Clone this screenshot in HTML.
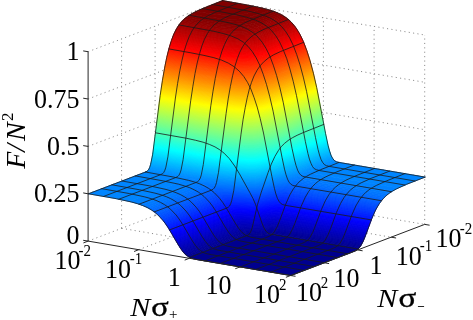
<!DOCTYPE html>
<html><head><meta charset="utf-8"><style>
html,body{margin:0;padding:0;background:#fff;}
body{width:473px;height:320px;overflow:hidden;position:relative;}
svg{position:absolute;left:0;top:0;}
.g{stroke:#8c8c8c;stroke-width:1;stroke-dasharray:1.1 3.3;fill:none;}
.a{stroke:#262626;stroke-width:1;fill:none;}
.s path{stroke-width:8;stroke-linejoin:round;}
.s path.m{fill:none;stroke:#1a1a1a;stroke-width:8;stroke-linejoin:round;stroke-linecap:round;}
text{font-family:"Liberation Serif",serif;fill:#000;}
</style></head><body>
<svg width="473" height="320" viewBox="0 0 473 320">
<g><path class="g" d="M88.1 241.1L222.2 190.0"/>
<path class="g" d="M88.1 193.8L222.2 142.7"/>
<path class="g" d="M88.1 146.4L222.2 95.3"/>
<path class="g" d="M88.1 99.0L222.2 47.9"/>
<path class="g" d="M88.1 51.7L222.2 0.6"/>
<path class="g" d="M222.2 190.0L222.2 0.6"/>
<path class="g" d="M188.7 202.8L188.7 13.4"/>
<path class="g" d="M155.1 215.5L155.1 26.1"/>
<path class="g" d="M121.6 228.3L121.6 38.9"/>
<path class="g" d="M222.2 190.0L424.7 224.4"/>
<path class="g" d="M222.2 142.7L424.7 177.1"/>
<path class="g" d="M222.2 95.3L424.7 129.7"/>
<path class="g" d="M222.2 47.9L424.7 82.3"/>
<path class="g" d="M222.2 0.6L424.7 35.0"/>
<path class="g" d="M272.8 198.6L272.8 9.2"/>
<path class="g" d="M323.4 207.2L323.4 17.8"/>
<path class="g" d="M374.1 215.8L374.1 26.4"/>
<path class="g" d="M424.7 224.4L424.7 35.0"/>
<path class="g" d="M138.7 249.7L272.8 198.6"/>
<path class="g" d="M189.3 258.3L323.4 207.2"/>
<path class="g" d="M240.0 266.9L374.1 215.8"/>
<path class="g" d="M188.7 202.8L391.2 237.2"/>
<path class="g" d="M155.1 215.5L357.7 249.9"/>
<path class="g" d="M121.6 228.3L324.1 262.7"/></g>
<g class="s" transform="scale(.1)"><path fill="#00008f" stroke="#00008f" d="M2715 2347 2747 2352 3577 2493 3557 2507 3526 2520 2910 2755 1978 2597 1932 2587 1901 2576 2476 2358 2490 2355 2506 2354 2594 2358 2616 2356 2677 2346 2693 2345Z"/>
<path fill="#00008f" stroke="#00008f" d="M2727 2334 3590 2481 3577 2493 2711 2346 2677 2346 2616 2356 2594 2358 2497 2354 2480 2357 2461 2363 1901 2576 1881 2566 2459 2346 2473 2343 2497 2341 2591 2346 2617 2343 2677 2332 2701 2332Z"/>
<path fill="#000091" stroke="#000091" d="M2711 2320 2759 2327 3599 2470 3590 2481 2719 2333 2701 2332 2677 2332 2617 2343 2591 2346 2487 2342 2468 2344 2445 2351 1881 2566 1868 2556 2449 2335 2470 2331 2487 2331 2563 2335 2592 2335 2618 2332 2680 2321Z"/>
<path fill="#000095" stroke="#000095" d="M2713 2310 2761 2316 3607 2460 3599 2470 2723 2322 2697 2320 2680 2321 2618 2332 2591 2335 2563 2335 2500 2331 2478 2331 2458 2333 2431 2341 1868 2556 1857 2547 2438 2326 2458 2322 2483 2320 2561 2325 2591 2325 2615 2323 2681 2311Z"/>
<path fill="#000099" stroke="#000099" d="M2721 2300 2767 2306 3613 2450 3607 2460 2751 2314 2719 2310 2690 2310 2669 2312 2615 2323 2591 2325 2561 2325 2483 2320 2458 2322 2442 2325 2413 2335 1857 2547 1848 2538 2433 2316 2454 2312 2470 2311 2559 2316 2588 2316 2614 2313 2679 2301 2698 2299Z"/>
<path fill="#00009d" stroke="#00009d" d="M2734 2291 3618 2441 3613 2450 2731 2301 2705 2299 2689 2300 2667 2303 2614 2313 2587 2316 2559 2316 2494 2311 2461 2311 2437 2315 2414 2322 1848 2538 1839 2529 2424 2307 2444 2303 2469 2302 2557 2307 2588 2307 2614 2304 2687 2291 2711 2290Z"/>
<path fill="#0000a1" stroke="#0000a1" d="M2727 2281 2778 2288 3623 2431 3618 2441 2757 2294 2725 2290 2696 2290 2663 2294 2608 2305 2588 2307 2557 2307 2469 2302 2444 2303 2424 2307 1839 2529 1832 2520 2388 2308 2421 2297 2443 2293 2470 2292 2554 2298 2589 2298 2614 2295 2683 2282 2702 2280Z"/>
<path fill="#0000a5" stroke="#0000a5" d="M2750 2273 3628 2422 3623 2431 2767 2286 2730 2281 2702 2280 2672 2283 2620 2294 2589 2298 2554 2298 2470 2292 2443 2293 2421 2297 2388 2308 1832 2520 1825 2512 2385 2298 2414 2288 2435 2285 2461 2283 2557 2289 2582 2289 2610 2287 2689 2272 2722 2271Z"/>
<path fill="#0000a9" stroke="#0000a9" d="M2743 2263 3632 2413 3628 2422 2767 2276 2728 2271 2699 2271 2666 2275 2610 2287 2586 2289 2557 2289 2461 2283 2435 2285 2414 2288 2385 2298 1825 2512 1819 2503 2407 2280 2428 2276 2452 2275 2560 2281 2585 2280 2616 2277 2685 2264 2712 2262Z"/>
<path fill="#0000ad" stroke="#0000ad" d="M2741 2254 2790 2261 3636 2404 3632 2413 2771 2267 2733 2262 2704 2262 2673 2265 2616 2277 2585 2280 2560 2281 2452 2275 2428 2276 2407 2280 1819 2503 1813 2495 2401 2271 2422 2268 2455 2266 2549 2272 2585 2272 2613 2269 2690 2254 2717 2253Z"/>
<path fill="#0000b1" stroke="#0000b1" d="M2741 2244 2789 2251 3640 2395 3636 2404 2775 2258 2737 2253 2709 2253 2679 2256 2613 2269 2585 2272 2549 2272 2455 2266 2422 2268 2401 2271 1813 2495 1807 2486 2367 2273 2400 2262 2422 2258 2448 2257 2552 2263 2582 2263 2614 2260 2685 2246 2713 2244Z"/>
<path fill="#0000b5" stroke="#0000b5" d="M2743 2235 2793 2242 3643 2387 3640 2395 2779 2249 2741 2244 2713 2244 2672 2248 2614 2260 2582 2263 2552 2263 2448 2257 2422 2258 2400 2262 2367 2273 1807 2486 1801 2478 2361 2265 2394 2254 2423 2249 2452 2249 2547 2255 2584 2255 2611 2252 2689 2237 2717 2235Z"/>
<path fill="#0000b9" stroke="#0000b9" d="M2745 2226 2796 2233 3647 2378 3643 2387 2783 2240 2745 2235 2709 2235 2678 2239 2611 2252 2584 2255 2547 2255 2452 2249 2423 2249 2394 2254 2361 2265 1801 2478 1796 2470 2356 2256 2389 2245 2417 2241 2445 2240 2543 2246 2581 2247 2613 2243 2694 2228 2721 2226Z"/>
<path fill="#0000bd" stroke="#0000bd" d="M2798 2224 3650 2369 3647 2378 2754 2227 2721 2226 2694 2228 2613 2243 2578 2247 2543 2246 2458 2240 2425 2240 2393 2244 2366 2253 1796 2470 1791 2461 2354 2247 2388 2236 2411 2233 2439 2232 2545 2238 2581 2238 2610 2235 2688 2220 2725 2217 2758 2218Z"/>
<path fill="#0000c1" stroke="#0000c1" d="M2796 2215 3654 2360 3650 2369 2758 2218 2732 2217 2698 2219 2662 2224 2610 2235 2576 2238 2545 2238 2464 2232 2419 2232 2388 2236 2361 2244 1791 2461 1786 2453 2349 2238 2383 2228 2406 2224 2432 2223 2473 2224 2541 2230 2581 2230 2612 2226 2680 2213 2720 2208 2755 2209Z"/>
<path fill="#0000c5" stroke="#0000c5" d="M2807 2207 3657 2352 3654 2360 2761 2210 2736 2208 2702 2210 2667 2215 2607 2227 2576 2230 2541 2230 2457 2224 2414 2224 2383 2228 2356 2236 1786 2453 1781 2445 2344 2230 2378 2219 2401 2216 2438 2215 2549 2222 2579 2222 2609 2218 2685 2204 2724 2200 2759 2200Z"/>
<path fill="#0000c9" stroke="#0000c9" d="M2757 2191 2810 2199 3660 2343 3657 2352 2764 2201 2732 2199 2696 2202 2604 2219 2576 2222 2536 2221 2450 2215 2408 2215 2378 2219 2351 2228 1781 2445 1776 2437 2335 2223 2368 2212 2396 2208 2432 2206 2545 2213 2581 2213 2606 2210 2663 2199 2700 2193 2728 2191Z"/>
<path fill="#0000cd" stroke="#0000cd" d="M2760 2183 2813 2190 3664 2335 3660 2343 2800 2197 2762 2192 2728 2191 2689 2195 2606 2210 2581 2213 2545 2213 2432 2206 2396 2208 2368 2212 2335 2223 1776 2437 1771 2428 2331 2215 2363 2204 2390 2199 2426 2198 2540 2205 2577 2205 2609 2201 2668 2190 2704 2184 2731 2182Z"/>
<path fill="#0000d1" stroke="#0000d1" d="M2765 2174 2816 2181 3667 2326 3664 2335 2771 2184 2739 2182 2704 2184 2668 2190 2609 2201 2575 2205 2540 2205 2452 2199 2406 2198 2373 2202 2344 2210 1771 2428 1766 2420 2326 2207 2358 2196 2385 2191 2421 2190 2461 2191 2542 2197 2578 2197 2607 2194 2697 2177 2734 2174Z"/>
<path fill="#0000d5" stroke="#0000d5" d="M2769 2166 2819 2173 3670 2317 3667 2326 2816 2181 2768 2175 2742 2173 2707 2175 2672 2181 2607 2194 2573 2197 2542 2197 2446 2190 2401 2190 2368 2194 2339 2202 1766 2420 1761 2412 2324 2197 2358 2186 2381 2183 2415 2181 2454 2183 2543 2189 2578 2189 2609 2185 2700 2168 2738 2165Z"/>
<path fill="#0000d9" stroke="#0000d9" d="M2773 2157 2823 2164 3673 2309 3670 2317 2819 2173 2772 2166 2745 2165 2711 2167 2676 2172 2604 2186 2572 2189 2537 2188 2440 2182 2396 2182 2363 2185 2335 2194 1761 2412 1757 2404 2320 2189 2353 2178 2383 2174 2421 2173 2539 2180 2574 2181 2607 2177 2667 2165 2704 2159 2741 2156Z"/>
<path fill="#0000dd" stroke="#0000dd" d="M2778 2149 2826 2156 3676 2300 3673 2309 2823 2164 2775 2157 2741 2156 2704 2159 2667 2165 2607 2177 2574 2181 2539 2180 2434 2174 2391 2174 2358 2177 2330 2185 1757 2404 1752 2396 2315 2181 2349 2170 2378 2166 2416 2165 2540 2172 2571 2173 2604 2169 2671 2156 2708 2150 2744 2148Z"/>
<path fill="#0000e1" stroke="#0000e1" d="M2783 2140 2829 2147 3679 2292 3676 2300 2826 2156 2778 2149 2744 2148 2708 2150 2671 2156 2604 2169 2571 2173 2540 2172 2443 2166 2386 2165 2353 2169 2325 2177 1752 2396 1747 2387 2310 2173 2344 2162 2373 2158 2411 2157 2535 2164 2571 2165 2602 2161 2675 2147 2711 2142 2747 2139Z"/>
<path fill="#0000e5" stroke="#0000e5" d="M2788 2132 3682 2283 3679 2292 2813 2145 2775 2140 2739 2139 2688 2145 2608 2161 2576 2164 2542 2164 2411 2157 2373 2158 2344 2162 2310 2173 1747 2387 1742 2379 2306 2165 2339 2154 2369 2149 2406 2148 2463 2151 2537 2156 2572 2156 2605 2153 2665 2141 2714 2133 2750 2131Z"/>
<path fill="#0000e9" stroke="#0000e9" d="M2794 2124 3685 2274 3682 2283 2832 2139 2784 2132 2750 2131 2714 2133 2665 2141 2605 2153 2572 2156 2530 2156 2431 2149 2377 2149 2344 2153 2316 2161 1742 2379 1738 2371 2301 2156 2335 2146 2364 2141 2401 2140 2457 2142 2538 2148 2569 2148 2603 2145 2669 2132 2717 2124 2761 2122Z"/>
<path fill="#0000ed" stroke="#0000ed" d="M2799 2116 3689 2266 3685 2274 2835 2130 2787 2123 2753 2122 2717 2124 2669 2132 2603 2145 2569 2148 2538 2148 2426 2141 2372 2141 2339 2144 2311 2153 1738 2371 1733 2363 2296 2148 2330 2137 2359 2133 2408 2132 2533 2140 2569 2140 2601 2137 2673 2123 2721 2116 2764 2113Z"/>
<path fill="#0000f1" stroke="#0000f1" d="M2805 2107 3692 2257 3689 2266 2838 2121 2790 2114 2756 2113 2721 2116 2673 2123 2601 2137 2569 2140 2533 2140 2421 2132 2367 2133 2335 2136 2307 2144 1733 2363 1728 2355 2292 2140 2325 2129 2355 2125 2403 2124 2535 2132 2571 2132 2604 2128 2677 2114 2724 2107 2767 2105Z"/>
<path fill="#0000f5" stroke="#0000f5" d="M2812 2099 3695 2249 3692 2257 2841 2113 2793 2106 2760 2105 2713 2108 2677 2114 2604 2128 2571 2132 2535 2132 2416 2124 2363 2124 2330 2128 2302 2136 1728 2355 1724 2346 2287 2132 2321 2121 2350 2117 2398 2116 2536 2124 2568 2124 2602 2121 2680 2105 2727 2099 2770 2096Z"/>
<path fill="#0000f9" stroke="#0000f9" d="M2819 2091 3698 2240 3695 2249 2844 2104 2796 2097 2763 2096 2716 2100 2680 2105 2602 2121 2568 2124 2530 2124 2411 2116 2358 2116 2325 2120 2297 2128 1724 2346 1719 2338 2282 2124 2316 2113 2345 2108 2394 2107 2531 2116 2566 2116 2600 2113 2684 2097 2730 2090 2773 2088Z"/>
<path fill="#0000fd" stroke="#0000fd" d="M2825 2083 3701 2231 3698 2240 2847 2096 2800 2089 2766 2088 2720 2091 2670 2099 2600 2113 2566 2116 2531 2116 2420 2108 2353 2108 2321 2112 2292 2120 1719 2338 1714 2330 2277 2115 2311 2104 2341 2100 2389 2099 2446 2102 2533 2108 2568 2108 2603 2104 2687 2088 2733 2081 2784 2079Z"/>
<path fill="#0002ff" stroke="#0002ff" d="M2833 2075 3704 2223 3701 2231 2851 2087 2803 2080 2769 2079 2723 2083 2673 2090 2603 2104 2568 2108 2533 2108 2415 2100 2349 2100 2316 2103 2288 2112 1714 2330 1709 2322 2273 2107 2306 2096 2336 2092 2384 2091 2441 2093 2534 2100 2568 2100 2601 2096 2690 2079 2746 2072 2793 2071Z"/>
<path fill="#0006ff" stroke="#0006ff" d="M2840 2067 3708 2214 3704 2223 2854 2078 2806 2071 2772 2070 2726 2074 2677 2082 2601 2096 2568 2100 2528 2100 2410 2092 2344 2092 2311 2095 2283 2103 1709 2322 1704 2314 2268 2099 2301 2088 2331 2084 2379 2083 2436 2085 2529 2092 2564 2092 2599 2089 2694 2071 2749 2063 2797 2062Z"/>
<path fill="#000aff" stroke="#000aff" d="M2846 2059 3711 2206 3708 2214 2857 2070 2809 2063 2775 2062 2729 2066 2680 2073 2599 2089 2565 2092 2529 2092 2405 2084 2339 2083 2306 2087 2278 2095 1704 2314 1699 2305 2263 2091 2296 2080 2326 2076 2375 2075 2431 2077 2530 2084 2566 2084 2597 2081 2697 2062 2752 2055 2800 2053Z"/>
<path fill="#000eff" stroke="#000eff" d="M2850 2050 3714 2197 3711 2206 2860 2061 2812 2054 2778 2053 2732 2057 2684 2064 2602 2080 2566 2084 2530 2084 2401 2075 2334 2075 2301 2079 2273 2087 1699 2305 1694 2297 2258 2082 2291 2072 2322 2067 2370 2066 2426 2069 2531 2076 2567 2076 2600 2072 2687 2056 2755 2046 2803 2045Z"/>
<path fill="#0012ff" stroke="#0012ff" d="M2850 2041 3718 2188 3714 2197 2864 2052 2816 2046 2782 2045 2735 2048 2687 2056 2600 2072 2567 2076 2525 2075 2396 2067 2330 2067 2296 2071 2268 2079 1694 2297 1689 2289 2252 2074 2286 2063 2317 2059 2365 2058 2421 2060 2526 2068 2564 2068 2598 2065 2690 2047 2759 2038 2807 2036Z"/>
<path fill="#0016ff" stroke="#0016ff" d="M2849 2031 3721 2179 3718 2188 2867 2044 2819 2037 2785 2036 2738 2040 2690 2047 2598 2065 2564 2068 2526 2068 2391 2059 2325 2059 2291 2062 2263 2070 1689 2289 1684 2280 2247 2066 2281 2055 2312 2051 2361 2050 2416 2052 2528 2060 2563 2060 2596 2057 2693 2038 2752 2030 2803 2027Z"/>
<path fill="#001aff" stroke="#001aff" d="M2848 2022 3725 2171 3721 2179 2855 2032 2816 2028 2780 2028 2719 2034 2602 2056 2570 2060 2528 2060 2416 2052 2361 2050 2312 2051 2281 2055 2247 2066 1684 2280 1679 2272 2242 2058 2276 2047 2307 2043 2356 2042 2427 2045 2529 2052 2565 2052 2600 2048 2697 2030 2755 2021 2806 2019Z"/>
<path fill="#001eff" stroke="#001eff" d="M2846 2013 3728 2162 3725 2171 2874 2026 2826 2019 2791 2019 2744 2023 2683 2032 2600 2048 2565 2052 2522 2051 2382 2043 2315 2042 2281 2046 2256 2053 1679 2272 1673 2264 2236 2049 2270 2038 2302 2034 2351 2034 2423 2037 2530 2044 2565 2044 2598 2041 2700 2021 2758 2013 2803 2010Z"/>
<path fill="#0022ff" stroke="#0022ff" d="M2846 2003 3732 2153 3728 2162 2878 2017 2830 2011 2795 2010 2748 2014 2686 2024 2598 2041 2565 2044 2524 2044 2377 2034 2310 2034 2276 2037 2250 2044 1673 2264 1667 2255 2231 2041 2265 2030 2296 2026 2347 2026 2418 2028 2525 2036 2562 2036 2602 2032 2689 2015 2761 2004 2806 2001Z"/>
<path fill="#0026ff" stroke="#0026ff" d="M2846 1994 3736 2144 3732 2153 2866 2006 2827 2001 2790 2002 2716 2010 2602 2032 2568 2036 2525 2036 2418 2028 2347 2026 2296 2026 2265 2030 2231 2041 1667 2255 1662 2247 2225 2033 2259 2022 2291 2018 2342 2017 2413 2020 2526 2028 2562 2028 2600 2024 2693 2006 2754 1997 2802 1993Z"/>
<path fill="#002aff" stroke="#002aff" d="M2845 1985 2894 1992 3740 2135 3736 2144 2885 2000 2837 1993 2802 1993 2754 1997 2693 2006 2600 2024 2562 2028 2520 2028 2368 2018 2291 2018 2259 2022 2232 2030 1662 2247 1656 2239 2219 2024 2253 2013 2286 2010 2337 2009 2408 2012 2521 2020 2563 2020 2598 2016 2696 1998 2757 1988 2805 1984Z"/>
<path fill="#002eff" stroke="#002eff" d="M2845 1975 2893 1982 3744 2126 3740 2135 2879 1989 2841 1984 2805 1984 2734 1991 2604 2016 2565 2020 2527 2020 2408 2012 2337 2009 2286 2010 2253 2013 2219 2024 1656 2239 1650 2230 2213 2016 2248 2005 2280 2001 2332 2001 2404 2004 2522 2012 2562 2012 2596 2009 2699 1989 2760 1980 2809 1975Z"/>
<path fill="#0032ff" stroke="#0032ff" d="M2876 1969 3748 2117 3744 2126 2893 1982 2845 1975 2809 1975 2760 1980 2699 1989 2596 2009 2562 2012 2522 2012 2359 2002 2280 2001 2248 2005 2220 2013 1650 2230 1643 2222 2207 2007 2241 1996 2274 1993 2327 1993 2399 1996 2523 2004 2560 2004 2600 2000 2715 1978 2785 1968 2836 1966Z"/>
<path fill="#0036ff" stroke="#0036ff" d="M2866 1959 3752 2108 3748 2117 2897 1973 2849 1966 2813 1966 2764 1971 2702 1981 2600 2000 2560 2004 2523 2004 2354 1993 2274 1993 2241 1996 2213 2005 1643 2222 1637 2213 2200 1999 2235 1988 2269 1984 2322 1984 2394 1987 2518 1996 2560 1996 2598 1992 2705 1972 2778 1961 2825 1957Z"/>
<path fill="#003aff" stroke="#003aff" d="M2862 1949 2911 1956 3757 2099 3752 2108 2892 1962 2853 1957 2817 1957 2743 1966 2604 1992 2566 1996 2524 1996 2394 1987 2322 1984 2269 1984 2235 1988 2200 1999 1637 2213 1630 2205 2193 1990 2228 1979 2262 1976 2317 1976 2406 1980 2519 1988 2562 1988 2602 1984 2694 1966 2770 1954 2821 1948Z"/>
<path fill="#003eff" stroke="#003eff" d="M2888 1942 3762 2090 3757 2099 2906 1955 2857 1948 2821 1948 2770 1954 2694 1966 2602 1984 2562 1988 2519 1988 2344 1977 2262 1976 2228 1979 2200 1988 1630 2205 1623 2196 2183 1983 2216 1972 2248 1968 2299 1967 2385 1971 2520 1980 2560 1980 2594 1977 2711 1955 2796 1942 2849 1939Z"/>
<path fill="#0042ff" stroke="#0042ff" d="M2876 1931 2921 1937 3766 2081 3762 2090 2901 1944 2868 1940 2833 1939 2796 1942 2750 1948 2605 1975 2564 1980 2527 1980 2385 1971 2299 1967 2248 1968 2216 1972 2183 1983 1623 2196 1615 2187 2175 1974 2209 1963 2241 1959 2293 1959 2381 1963 2522 1972 2558 1973 2598 1968 2714 1946 2789 1935 2838 1930Z"/>
<path fill="#0046ff" stroke="#0046ff" d="M2899 1924 3772 2071 3766 2081 2906 1935 2867 1930 2838 1930 2800 1933 2753 1940 2604 1968 2565 1972 2522 1972 2381 1963 2293 1959 2241 1959 2209 1963 2175 1974 1615 2187 1608 2179 2168 1965 2202 1955 2234 1951 2288 1951 2376 1955 2516 1964 2559 1965 2602 1960 2717 1938 2804 1924 2858 1920Z"/>
<path fill="#004aff" stroke="#004aff" d="M2885 1912 2932 1918 3777 2062 3772 2071 2911 1925 2878 1921 2842 1921 2804 1924 2757 1931 2602 1960 2564 1964 2516 1964 2376 1955 2288 1951 2234 1951 2202 1955 2168 1965 1608 2179 1600 2170 2159 1957 2194 1946 2227 1942 2282 1942 2371 1946 2517 1956 2560 1957 2600 1952 2720 1929 2796 1917 2847 1912Z"/>
<path fill="#004eff" stroke="#004eff" d="M2898 1903 3783 2052 3777 2062 2916 1916 2877 1911 2847 1912 2773 1920 2600 1952 2561 1957 2517 1956 2371 1946 2282 1942 2227 1942 2194 1946 2159 1957 1600 2170 1591 2161 2151 1948 2185 1937 2219 1934 2276 1934 2366 1938 2512 1948 2559 1949 2604 1944 2723 1921 2812 1906 2860 1902Z"/>
<path fill="#0052ff" stroke="#0052ff" d="M2911 1894 3789 2043 3783 2052 2927 1907 2889 1902 2860 1902 2823 1905 2776 1912 2604 1944 2562 1949 2512 1948 2366 1938 2276 1934 2219 1934 2185 1937 2151 1948 1591 2161 1582 2152 2142 1939 2176 1928 2212 1925 2270 1925 2379 1931 2507 1940 2556 1941 2597 1937 2727 1912 2816 1897 2874 1892Z"/>
<path fill="#0056ff" stroke="#0056ff" d="M2921 1885 3795 2033 3789 2043 2933 1897 2895 1892 2866 1892 2827 1896 2780 1903 2608 1935 2564 1941 2520 1941 2270 1925 2212 1925 2176 1928 2142 1939 1582 2152 1572 2143 2132 1930 2167 1919 2203 1916 2263 1917 2514 1932 2557 1933 2601 1928 2730 1903 2832 1887 2880 1882Z"/>
<path fill="#005aff" stroke="#005aff" d="M2925 1874 3802 2023 3795 2033 2950 1889 2901 1883 2863 1883 2821 1888 2730 1903 2601 1928 2557 1933 2514 1932 2278 1918 2194 1916 2167 1919 2139 1927 1572 2143 1561 2134 2118 1922 2152 1911 2185 1907 2242 1908 2515 1925 2558 1925 2599 1920 2733 1895 2837 1877 2886 1873Z"/>
<path fill="#005eff" stroke="#005eff" d="M2926 1863 2970 1870 3810 2012 3802 2023 2947 1877 2914 1873 2886 1873 2859 1875 2813 1881 2604 1920 2560 1925 2515 1925 2242 1908 2185 1907 2152 1911 2118 1922 1561 2134 1550 2125 2110 1911 2140 1902 2175 1898 2235 1899 2510 1916 2557 1917 2603 1912 2736 1886 2842 1868 2893 1863Z"/>
<path fill="#0062ff" stroke="#0062ff" d="M2961 1856 3818 2002 3810 2012 2964 1869 2921 1863 2884 1863 2842 1868 2736 1886 2603 1912 2557 1917 2510 1916 2250 1900 2166 1899 2140 1902 2117 1909 1550 2125 1537 2115 2094 1903 2128 1892 2165 1889 2213 1890 2505 1908 2555 1909 2606 1903 2782 1870 2871 1855 2916 1852Z"/>
<path fill="#0066ff" stroke="#0066ff" d="M2941 1842 2987 1848 3827 1991 3818 2002 2978 1859 2929 1852 2891 1853 2848 1858 2739 1877 2606 1903 2555 1909 2505 1908 2242 1891 2155 1889 2128 1892 2104 1899 1537 2115 1523 2105 2083 1892 2115 1883 2153 1880 2204 1881 2500 1900 2555 1901 2605 1896 2772 1863 2866 1847 2908 1842Z"/>
<path fill="#006aff" stroke="#006aff" d="M2952 1831 2997 1837 3838 1980 3827 1991 2977 1847 2944 1842 2917 1842 2889 1844 2841 1851 2610 1895 2561 1901 2506 1900 2204 1881 2153 1880 2115 1883 2083 1892 1523 2105 1508 2095 2064 1883 2095 1874 2130 1870 2179 1871 2501 1892 2558 1893 2608 1887 2873 1837 2917 1831Z"/>
<path fill="#006eff" stroke="#006eff" d="M2975 1820 3850 1968 3838 1980 2987 1835 2955 1831 2926 1831 2860 1839 2608 1887 2558 1893 2501 1892 2179 1871 2130 1870 2100 1873 2068 1882 1508 2095 1490 2085 2046 1873 2077 1863 2105 1861 2153 1861 2495 1884 2556 1885 2578 1884 2612 1878 2893 1825 2936 1819Z"/>
<path fill="#0072ff" stroke="#0072ff" d="M2987 1807 3863 1955 3850 1968 3009 1825 2966 1819 2936 1819 2893 1825 2612 1878 2578 1884 2556 1885 2495 1884 2168 1862 2097 1861 2073 1864 2053 1870 1490 2085 1469 2074 2026 1862 2057 1852 2088 1850 2140 1852 2490 1876 2554 1878 2605 1872 2915 1812 2957 1807Z"/>
<path fill="#0076ff" stroke="#0076ff" d="M3006 1794 3880 1941 3863 1955 3023 1812 2979 1807 2948 1807 2902 1814 2610 1871 2579 1876 2554 1878 2490 1876 2140 1852 2078 1850 2052 1853 2032 1859 1469 2074 1444 2062 1997 1851 2027 1842 2056 1839 2108 1841 2485 1868 2553 1870 2581 1867 2614 1862 2939 1798 2980 1793Z"/>
<path fill="#007aff" stroke="#007aff" d="M3023 1778 3066 1784 3902 1926 3880 1941 3035 1798 3002 1793 2980 1793 2951 1796 2912 1803 2619 1861 2581 1867 2560 1869 2530 1870 2485 1868 2108 1841 2067 1839 2033 1841 2018 1844 2000 1850 1444 2062 1411 2049 1964 1838 1996 1829 2029 1827 2072 1829 2480 1860 2525 1862 2554 1862 2585 1859 2623 1852 2952 1785 2989 1780Z"/>
<path fill="#007eff" stroke="#007eff" d="M3058 1760 3096 1765 3932 1907 3902 1926 3061 1783 3029 1779 3008 1778 2952 1785 2623 1852 2585 1859 2557 1862 2525 1862 2480 1860 2072 1829 2029 1827 1996 1829 1964 1838 1411 2049 1366 2034 1919 1823 1947 1815 1970 1814 2010 1815 2370 1844 2506 1853 2556 1854 2600 1849 2711 1827 2999 1766 3034 1761Z"/>
<path fill="#0081ff" stroke="#0081ff" d="M3114 1734 3152 1739 3982 1880 3932 1907 3096 1765 3058 1760 3034 1761 2999 1766 2805 1808 2646 1840 2595 1849 2555 1854 2523 1854 2475 1851 2254 1835 2027 1816 1961 1814 1942 1816 1923 1822 1366 2034 1290 2014 1840 1804 1868 1796 1894 1795 1924 1797 2291 1830 2489 1844 2552 1846 2604 1840 2759 1809 2864 1786 3062 1740 3087 1736Z"/>
<path fill="#0085ff" stroke="#0085ff" d="M3396 1625 4251 1771 4080 1838 3982 1880 3147 1738 3126 1735 3106 1734 3075 1738 3046 1743 2864 1786 2745 1812 2609 1839 2558 1846 2507 1845 2383 1837 2202 1823 1944 1798 1894 1795 1868 1796 1840 1804 1290 2014 1143 1983 884 1938 1450 1722 1869 1777 2110 1805 2239 1818 2384 1829 2502 1837 2558 1838 2603 1832 2733 1807 2834 1785 2915 1765 3094 1716Z"/>
<path fill="#0089ff" stroke="#0089ff" d="M3350 1610 3370 1619 3396 1625 3094 1716 2915 1765 2834 1785 2733 1807 2603 1832 2558 1838 2502 1837 2384 1829 2239 1818 2110 1805 1869 1777 1450 1722 1468 1714 1481 1703 1840 1761 2056 1791 2182 1804 2318 1816 2496 1829 2556 1830 2606 1824 2751 1795 2859 1771 2953 1746 3044 1719 3112 1697 3204 1665Z"/>
<path fill="#008dff" stroke="#008dff" d="M3339 1601 3350 1610 3151 1684 3056 1716 2982 1738 2881 1765 2785 1788 2617 1822 2584 1827 2556 1830 2496 1829 2318 1816 2182 1804 2056 1791 1840 1761 1481 1703 1488 1693 1893 1759 2026 1778 2137 1791 2247 1802 2374 1813 2497 1821 2554 1822 2608 1815 2754 1786 2847 1765 2941 1740 3015 1718 3117 1683Z"/>
<path fill="#0091ff" stroke="#0091ff" d="M3332 1592 3339 1601 3128 1680 3056 1705 2973 1731 2869 1760 2773 1782 2610 1815 2554 1822 2493 1821 2313 1808 2195 1797 2070 1784 1967 1770 1814 1747 1488 1693 1493 1684 1896 1750 2034 1770 2151 1785 2260 1796 2406 1807 2505 1814 2555 1814 2611 1807 2743 1781 2831 1761 2929 1735 3003 1712 3076 1688Z"/>
<path fill="#0095ff" stroke="#0095ff" d="M3326 1584 3332 1592 3086 1684 2961 1725 2875 1750 2776 1773 2611 1807 2555 1814 2492 1813 2326 1801 2214 1791 2084 1777 1876 1747 1493 1684 1497 1675 1905 1743 2048 1763 2141 1775 2256 1787 2382 1798 2501 1806 2557 1806 2614 1799 2746 1772 2838 1751 2914 1730 2988 1708 3064 1682Z"/>
<path fill="#0099ff" stroke="#0099ff" d="M3321 1576 3326 1584 3074 1678 2946 1721 2860 1745 2765 1768 2614 1799 2557 1806 2499 1806 2339 1794 2227 1784 2102 1771 1889 1740 1497 1675 1500 1666 1928 1737 2071 1758 2160 1769 2269 1780 2395 1791 2501 1798 2555 1798 2605 1792 2735 1766 2823 1746 2899 1726 2969 1705 3046 1679Z"/>
<path fill="#009dff" stroke="#009dff" d="M3317 1568 3321 1576 3060 1674 2931 1716 2845 1741 2749 1763 2616 1790 2578 1796 2555 1798 2498 1798 2359 1788 2245 1778 2121 1764 1913 1735 1500 1666 1502 1658 1946 1731 2144 1759 2264 1772 2372 1781 2495 1790 2553 1791 2605 1784 2738 1758 2830 1736 2909 1715 2996 1687 3073 1659Z"/>
<path fill="#00a1ff" stroke="#00a1ff" d="M3314 1560 3317 1568 3077 1658 2999 1686 2916 1712 2830 1736 2738 1758 2605 1784 2553 1791 2494 1790 2329 1778 2212 1767 2106 1754 1978 1736 1858 1717 1502 1658 1505 1649 1907 1717 2070 1741 2163 1753 2277 1765 2385 1774 2503 1782 2553 1783 2608 1776 2722 1753 2815 1732 2894 1710 2974 1685 3053 1658Z"/>
<path fill="#00a5ff" stroke="#00a5ff" d="M3310 1552 3314 1560 3067 1653 2925 1701 2836 1726 2741 1749 2608 1776 2553 1783 2490 1782 2348 1771 2230 1761 2124 1748 1891 1714 1505 1649 1507 1641 1945 1714 2055 1731 2186 1748 2296 1759 2423 1769 2504 1775 2555 1775 2610 1767 2726 1744 2821 1722 2900 1700 3036 1655Z"/>
<path fill="#00a9ff" stroke="#00a9ff" d="M3307 1544 3310 1552 3039 1654 2908 1698 2821 1722 2745 1740 2610 1767 2555 1775 2502 1774 2380 1766 2249 1755 2147 1743 1935 1713 1507 1641 1509 1633 1978 1711 2176 1739 2291 1751 2399 1760 2498 1766 2554 1767 2599 1761 2714 1739 2807 1717 2886 1696 2969 1669 3050 1641Z"/>
<path fill="#00adff" stroke="#00adff" d="M3304 1536 3307 1544 3064 1636 2917 1686 2828 1712 2748 1731 2613 1759 2554 1767 2498 1766 2357 1756 2239 1746 2132 1733 2009 1716 1890 1697 1509 1633 1511 1625 1938 1696 2161 1729 2257 1740 2376 1750 2494 1758 2552 1759 2602 1753 2698 1734 2792 1713 2868 1693 2941 1670 3023 1642Z"/>
<path fill="#00b1ff" stroke="#00b1ff" d="M3302 1528 3304 1536 3037 1637 2899 1683 2814 1708 2732 1727 2603 1753 2552 1759 2494 1758 2376 1750 2257 1740 2156 1728 1933 1696 1511 1625 1513 1617 1981 1695 2185 1724 2299 1736 2407 1745 2505 1751 2551 1751 2605 1745 2707 1724 2794 1704 2874 1683 3003 1640Z"/>
<path fill="#00b5ff" stroke="#00b5ff" d="M3299 1520 3302 1528 3055 1621 2971 1651 2905 1673 2820 1698 2735 1718 2607 1744 2551 1751 2490 1750 2371 1742 2252 1731 2146 1719 1971 1693 1513 1617 1515 1609 1947 1681 2067 1700 2175 1714 2294 1727 2402 1736 2502 1743 2553 1743 2607 1736 2724 1713 2801 1694 2883 1671 3025 1623Z"/>
<path fill="#00b9ff" stroke="#00b9ff" d="M3297 1513 3299 1520 3028 1622 2887 1670 2801 1694 2724 1713 2607 1736 2553 1743 2502 1743 2384 1735 2271 1725 2169 1714 1947 1681 1515 1609 1516 1601 1995 1681 2198 1709 2313 1721 2421 1730 2509 1735 2553 1735 2610 1728 2709 1708 2787 1690 2866 1668 2949 1642 3030 1613Z"/>
<path fill="#00bdff" stroke="#00bdff" d="M3294 1505 3297 1513 3047 1607 2897 1659 2808 1684 2728 1704 2610 1728 2553 1735 2498 1735 2379 1727 2260 1716 2159 1704 2037 1687 1912 1667 1516 1601 1518 1593 1965 1668 2080 1685 2188 1700 2284 1711 2398 1720 2494 1727 2551 1727 2613 1719 2712 1699 2789 1681 2872 1658 3014 1610Z"/>
<path fill="#00c1ff" stroke="#00c1ff" d="M3292 1497 3294 1505 3014 1610 2876 1657 2794 1680 2712 1699 2613 1719 2551 1727 2494 1727 2373 1719 2256 1708 2144 1694 1945 1664 1518 1593 1519 1585 1936 1655 2055 1674 2178 1691 2274 1702 2393 1712 2490 1719 2549 1720 2602 1713 2686 1697 2775 1677 2854 1655 2934 1630 3015 1601Z"/>
<path fill="#00c5ff" stroke="#00c5ff" d="M3290 1489 3292 1497 3032 1595 2885 1646 2797 1671 2715 1691 2602 1713 2549 1720 2490 1719 2386 1712 2274 1702 2167 1689 2055 1674 1931 1654 1519 1585 1521 1577 1984 1654 2099 1672 2202 1686 2298 1696 2412 1706 2502 1712 2550 1712 2604 1705 2704 1685 2782 1667 2860 1645 2995 1600Z"/>
<path fill="#00c9ff" stroke="#00c9ff" d="M3288 1481 3290 1489 2999 1599 2868 1643 2782 1667 2704 1685 2604 1705 2550 1712 2486 1711 2381 1704 2269 1693 2158 1680 1963 1651 1521 1577 1522 1569 1954 1642 2079 1661 2192 1676 2287 1687 2407 1698 2498 1704 2552 1704 2607 1697 2708 1676 2785 1658 2866 1635 2930 1615 3014 1585Z"/>
<path fill="#00cdff" stroke="#00cdff" d="M3286 1474 3288 1481 3018 1583 2874 1633 2785 1658 2708 1676 2607 1697 2552 1704 2498 1704 2400 1697 2287 1687 2181 1675 2073 1660 1949 1641 1522 1569 1523 1561 2007 1642 2215 1671 2306 1681 2426 1691 2508 1696 2550 1696 2596 1691 2692 1672 2770 1654 2849 1632 2981 1588Z"/>
<path fill="#00d1ff" stroke="#00d1ff" d="M3284 1466 3286 1474 3033 1569 2880 1623 2792 1648 2711 1668 2609 1688 2550 1696 2494 1696 2395 1689 2283 1679 2176 1667 1991 1639 1523 1561 1525 1553 1977 1629 2097 1648 2205 1662 2301 1673 2415 1683 2503 1688 2548 1688 2599 1682 2695 1663 2773 1645 2851 1623 2911 1604 2996 1574Z"/>
<path fill="#00d5ff" stroke="#00d5ff" d="M3282 1458 3284 1466 3000 1573 2859 1621 2773 1645 2695 1663 2599 1682 2548 1688 2491 1688 2372 1679 2272 1670 2166 1657 1962 1627 1525 1553 1526 1545 1953 1617 2077 1637 2195 1653 2296 1665 2403 1674 2502 1680 2548 1680 2601 1674 2684 1658 2758 1641 2838 1619 2913 1595 2998 1565Z"/>
<path fill="#00d9ff" stroke="#00d9ff" d="M3280 1451 3282 1458 3012 1560 2865 1611 2780 1635 2699 1655 2601 1674 2548 1680 2502 1680 2397 1673 2290 1664 2189 1652 2077 1637 1953 1617 1526 1545 1527 1537 2005 1617 2218 1648 2315 1658 2429 1668 2498 1672 2550 1672 2604 1665 2688 1649 2761 1632 2840 1610 2979 1564Z"/>
<path fill="#00ddff" stroke="#00ddff" d="M3278 1443 3280 1451 2993 1559 2871 1601 2787 1625 2707 1645 2604 1665 2550 1672 2498 1672 2392 1665 2286 1656 2179 1643 1985 1614 1527 1537 1528 1530 1981 1606 2106 1625 2213 1640 2310 1650 2424 1660 2506 1665 2549 1664 2606 1657 2691 1640 2769 1622 2846 1600 2991 1551Z"/>
<path fill="#00e1ff" stroke="#00e1ff" d="M3276 1435 3278 1443 2994 1550 2854 1598 2769 1622 2696 1639 2606 1657 2549 1664 2494 1664 2381 1656 2281 1647 2170 1634 1960 1602 1528 1530 1530 1522 1961 1594 2086 1614 2203 1630 2299 1641 2400 1650 2491 1656 2547 1656 2596 1651 2675 1636 2750 1619 2829 1597 2908 1572 2989 1543Z"/>
<path fill="#00e5ff" stroke="#00e5ff" d="M3275 1427 3276 1435 3006 1537 2860 1588 2771 1613 2694 1632 2596 1651 2547 1656 2491 1656 2400 1650 2299 1641 2192 1629 2080 1613 1956 1593 1530 1522 1531 1514 2009 1594 2221 1625 2318 1635 2419 1644 2501 1649 2546 1649 2598 1643 2678 1627 2757 1609 2835 1587 2974 1541Z"/>
<path fill="#00e9ff" stroke="#00e9ff" d="M3273 1420 3275 1427 2988 1536 2862 1579 2778 1603 2698 1623 2598 1643 2546 1649 2487 1648 2395 1642 2294 1633 2183 1620 1988 1591 1531 1514 1532 1506 1989 1583 2109 1601 2216 1616 2313 1627 2414 1636 2498 1641 2547 1641 2601 1634 2682 1618 2760 1600 2838 1578 2898 1559 2982 1529Z"/>
<path fill="#00edff" stroke="#00edff" d="M3271 1412 3273 1420 2989 1527 2849 1575 2777 1596 2696 1615 2601 1634 2547 1641 2483 1640 2390 1634 2284 1624 2178 1611 1964 1579 1532 1506 1533 1498 1970 1572 2094 1591 2212 1608 2308 1619 2409 1627 2494 1633 2548 1633 2603 1626 2690 1609 2767 1590 2844 1568 2910 1547 2995 1516Z"/>
<path fill="#00f1ff" stroke="#00f1ff" d="M3270 1404 3271 1412 2998 1515 2851 1566 2767 1590 2695 1608 2603 1626 2548 1633 2494 1633 2409 1627 2308 1619 2201 1606 2089 1590 1965 1571 1533 1498 1534 1490 2012 1571 2132 1589 2229 1602 2326 1612 2422 1621 2505 1625 2546 1625 2593 1620 2679 1603 2748 1587 2827 1566 2965 1519Z"/>
<path fill="#00f5ff" stroke="#00f5ff" d="M3268 1397 3270 1404 2983 1513 2858 1556 2774 1581 2698 1599 2606 1618 2546 1625 2491 1625 2404 1619 2297 1610 2191 1597 1991 1567 1534 1490 1535 1483 1998 1560 2117 1579 2225 1593 2321 1604 2417 1612 2487 1617 2544 1617 2595 1611 2668 1598 2751 1578 2829 1557 2889 1537 2974 1507Z"/>
<path fill="#00f9ff" stroke="#00f9ff" d="M3266 1389 3268 1397 2981 1505 2841 1553 2768 1574 2682 1594 2595 1611 2544 1617 2487 1617 2381 1609 2287 1601 2181 1588 1972 1556 1535 1483 1536 1475 1983 1550 2102 1569 2220 1585 2316 1596 2414 1604 2498 1609 2545 1609 2598 1603 2686 1586 2758 1569 2835 1547 2902 1525 2986 1495Z"/>
<path fill="#00fdff" stroke="#00fdff" d="M3265 1381 3266 1389 2993 1492 2847 1543 2775 1564 2691 1585 2598 1603 2545 1609 2498 1609 2412 1604 2311 1595 2204 1583 1973 1548 1536 1475 1537 1467 2020 1548 2140 1566 2238 1579 2335 1590 2428 1597 2495 1601 2547 1601 2600 1595 2675 1580 2757 1561 2822 1543 2960 1496Z"/>
<path fill="#02fffd" stroke="#02fffd" d="M3263 1374 3265 1381 2978 1490 2849 1534 2765 1559 2694 1576 2600 1595 2547 1601 2494 1601 2407 1596 2306 1587 2200 1574 2000 1545 1537 1467 1538 1459 2006 1538 2126 1556 2228 1570 2324 1581 2424 1589 2503 1594 2545 1593 2602 1586 2678 1572 2747 1556 2825 1534 2969 1484Z"/>
<path fill="#06fff9" stroke="#06fff9" d="M3262 1366 3263 1374 2976 1482 2836 1530 2760 1552 2678 1572 2602 1586 2545 1593 2491 1593 2401 1588 2301 1579 2190 1565 1980 1533 1538 1459 1539 1451 1992 1527 2111 1546 2223 1562 2319 1573 2419 1581 2487 1585 2543 1585 2592 1580 2682 1563 2754 1546 2827 1525 2894 1503 2975 1474Z"/>
<path fill="#0afff5" stroke="#0afff5" d="M3260 1358 3262 1366 2981 1472 2839 1521 2767 1542 2682 1563 2592 1580 2543 1585 2487 1585 2396 1579 2290 1570 2185 1557 1966 1523 1539 1451 1540 1444 2018 1524 2219 1553 2314 1564 2415 1573 2497 1578 2543 1577 2595 1572 2666 1558 2744 1540 2814 1521 2952 1474Z"/>
<path fill="#0efff1" stroke="#0efff1" d="M3258 1351 3260 1358 2970 1468 2841 1512 2761 1536 2685 1554 2595 1572 2543 1577 2483 1577 2397 1572 2297 1562 2202 1551 2008 1522 1540 1444 1541 1436 2014 1515 2139 1534 2236 1548 2333 1558 2429 1566 2494 1570 2545 1569 2597 1563 2669 1550 2743 1533 2816 1512 2877 1493 2961 1463Z"/>
<path fill="#12ffed" stroke="#12ffed" d="M3257 1343 3258 1351 2975 1458 2843 1504 2764 1527 2688 1546 2597 1563 2545 1569 2494 1570 2410 1565 2304 1555 2198 1543 1988 1511 1541 1436 1542 1428 2005 1506 2124 1524 2232 1539 2328 1550 2425 1558 2491 1562 2544 1562 2600 1555 2673 1541 2746 1524 2819 1503 2882 1483 2967 1453Z"/>
<path fill="#16ffe9" stroke="#16ffe9" d="M3255 1335 3257 1343 2973 1450 2834 1498 2758 1521 2677 1540 2600 1555 2544 1562 2491 1562 2405 1557 2299 1547 2194 1534 1979 1502 1542 1428 1543 1420 2026 1501 2227 1531 2323 1542 2419 1550 2488 1554 2542 1554 2590 1549 2661 1535 2740 1517 2810 1498 2877 1476 2948 1451Z"/>
<path fill="#1affe5" stroke="#1affe5" d="M3254 1328 3255 1335 2979 1440 2833 1491 2753 1514 2676 1532 2590 1549 2542 1554 2487 1554 2400 1548 2306 1540 2211 1529 2016 1500 1543 1420 1544 1412 2022 1493 2239 1524 2330 1534 2416 1542 2496 1546 2541 1546 2592 1540 2665 1527 2743 1509 2812 1489 2953 1441Z"/>
<path fill="#1effe1" stroke="#1effe1" d="M3252 1320 3254 1328 2967 1436 2835 1482 2756 1505 2679 1524 2592 1540 2541 1546 2483 1546 2395 1540 2301 1531 2206 1520 2002 1489 1544 1412 1545 1405 2013 1483 2234 1516 2319 1525 2411 1534 2494 1538 2542 1538 2594 1532 2668 1518 2741 1501 2815 1480 2959 1431Z"/>
<path fill="#22ffdd" stroke="#22ffdd" d="M3251 1312 3252 1320 2966 1428 2826 1477 2750 1499 2668 1518 2594 1532 2542 1538 2480 1538 2390 1532 2296 1523 2202 1512 1992 1480 1545 1405 1546 1397 2004 1474 2123 1492 2235 1508 2332 1519 2426 1527 2492 1530 2543 1530 2597 1524 2672 1509 2744 1492 2813 1473 2880 1451 2961 1422Z"/>
<path fill="#26ffd9" stroke="#26ffd9" d="M3249 1305 3251 1312 2971 1418 2828 1468 2753 1490 2672 1509 2597 1524 2543 1530 2490 1530 2407 1525 2303 1516 2197 1503 1978 1470 1546 1397 1547 1389 2020 1468 2231 1500 2332 1511 2421 1519 2500 1523 2540 1522 2587 1517 2657 1504 2734 1487 2808 1466 2949 1418Z"/>
<path fill="#2affd5" stroke="#2affd5" d="M3248 1297 3249 1305 2963 1413 2831 1459 2751 1482 2675 1501 2599 1515 2540 1522 2487 1522 2402 1517 2309 1509 2209 1497 2010 1467 1547 1389 1548 1381 2016 1460 2237 1493 2328 1503 2417 1510 2483 1514 2539 1514 2589 1509 2660 1496 2737 1478 2806 1458 2870 1438 2951 1409Z"/>
<path fill="#2effd1" stroke="#2effd1" d="M3247 1289 3248 1297 2961 1405 2822 1454 2750 1475 2678 1492 2602 1507 2539 1514 2483 1514 2399 1509 2305 1500 2205 1488 1995 1457 1548 1381 1549 1374 2012 1451 2136 1471 2238 1485 2323 1494 2412 1502 2493 1507 2540 1506 2592 1501 2662 1487 2740 1469 2809 1450 2953 1400Z"/>
<path fill="#32ffcd" stroke="#32ffcd" d="M3245 1282 3247 1289 2963 1396 2824 1445 2753 1466 2682 1483 2592 1501 2540 1506 2493 1507 2412 1502 2311 1493 2206 1481 1991 1448 1549 1374 1550 1366 2028 1446 2239 1477 2341 1488 2425 1495 2490 1499 2542 1498 2594 1492 2666 1479 2739 1462 2808 1442 2945 1395Z"/>
<path fill="#36ffc9" stroke="#36ffc9" d="M3244 1274 3245 1282 2965 1387 2823 1437 2747 1459 2667 1479 2594 1492 2542 1498 2490 1499 2407 1494 2312 1485 2212 1474 2013 1443 1550 1366 1551 1358 2024 1437 2240 1469 2336 1480 2422 1487 2486 1491 2539 1491 2584 1486 2655 1473 2729 1456 2802 1436 2943 1387Z"/>
<path fill="#3affc5" stroke="#3affc5" d="M3242 1266 3244 1274 2960 1381 2825 1428 2750 1451 2669 1470 2597 1484 2539 1491 2486 1491 2402 1486 2307 1477 2213 1466 2008 1435 1551 1358 1552 1350 2020 1429 2241 1462 2331 1472 2417 1479 2483 1483 2537 1483 2587 1478 2658 1465 2731 1447 2801 1428 2864 1407 2945 1379Z"/>
<path fill="#3effc1" stroke="#3effc1" d="M3241 1259 3242 1266 2955 1375 2816 1423 2744 1444 2672 1461 2599 1476 2537 1483 2483 1483 2397 1478 2303 1469 2208 1457 1999 1425 1552 1350 1553 1343 2021 1421 2242 1454 2327 1463 2412 1471 2492 1475 2538 1475 2589 1469 2661 1456 2734 1439 2799 1420 2866 1398 2947 1370Z"/>
<path fill="#42ffbd" stroke="#42ffbd" d="M3239 1251 3241 1259 2957 1366 2819 1414 2739 1438 2661 1456 2589 1469 2538 1475 2479 1475 2393 1469 2298 1460 2209 1450 1995 1417 1553 1343 1554 1335 2032 1415 2243 1446 2339 1457 2426 1464 2489 1467 2540 1467 2592 1461 2665 1447 2737 1430 2802 1411 2942 1363Z"/>
<path fill="#46ffb9" stroke="#46ffb9" d="M3238 1244 3239 1251 2956 1358 2821 1405 2741 1429 2665 1447 2592 1461 2540 1467 2489 1467 2408 1463 2316 1454 2216 1443 2011 1412 1554 1335 1555 1327 2028 1406 2244 1438 2334 1448 2422 1456 2485 1459 2538 1459 2582 1454 2651 1442 2723 1426 2797 1405 2860 1384 2941 1356Z"/>
<path fill="#4affb5" stroke="#4affb5" d="M3236 1236 3238 1244 2951 1352 2816 1399 2744 1420 2668 1439 2594 1453 2538 1459 2485 1459 2403 1454 2311 1446 2211 1434 2002 1402 1555 1327 1556 1319 2023 1398 2245 1431 2329 1440 2417 1448 2482 1451 2536 1451 2584 1446 2654 1434 2730 1416 2795 1397 2859 1377 2939 1348Z"/>
<path fill="#4effb1" stroke="#4effb1" d="M3235 1228 3236 1236 2953 1343 2814 1391 2743 1412 2671 1430 2597 1444 2536 1451 2482 1451 2398 1446 2301 1437 2212 1426 2003 1394 1556 1319 1557 1312 2035 1392 2246 1423 2325 1432 2414 1440 2491 1444 2536 1443 2587 1438 2657 1425 2729 1408 2794 1390 2861 1368 2938 1340Z"/>
<path fill="#52ffad" stroke="#52ffad" d="M3234 1221 3235 1228 2952 1335 2813 1384 2741 1405 2674 1421 2599 1436 2536 1443 2478 1443 2396 1438 2296 1429 2213 1419 1999 1386 1557 1312 1558 1304 2030 1383 2247 1415 2343 1426 2426 1433 2488 1436 2538 1435 2589 1429 2659 1417 2727 1401 2796 1381 2937 1333Z"/>
<path fill="#56ffa9" stroke="#56ffa9" d="M3232 1213 3234 1221 2947 1329 2812 1376 2740 1397 2661 1416 2589 1429 2538 1435 2488 1436 2408 1431 2314 1423 2214 1411 2010 1380 1558 1304 1559 1296 2026 1375 2242 1407 2338 1417 2422 1424 2485 1428 2537 1427 2580 1423 2648 1411 2722 1394 2791 1374 2854 1354 2935 1325Z"/>
<path fill="#5affa5" stroke="#5affa5" d="M3231 1205 3232 1213 2949 1320 2814 1367 2743 1388 2664 1408 2592 1421 2537 1427 2485 1428 2404 1423 2309 1414 2215 1403 2006 1371 1559 1296 1560 1288 2032 1368 2249 1400 2333 1409 2417 1416 2481 1420 2534 1419 2582 1415 2651 1402 2724 1385 2790 1367 2853 1346 2934 1317Z"/>
<path fill="#5effa1" stroke="#5effa1" d="M3229 1198 3231 1205 2948 1312 2809 1361 2733 1383 2665 1399 2594 1413 2534 1419 2481 1420 2399 1415 2304 1406 2221 1396 2012 1364 1560 1288 1561 1281 2038 1361 2255 1392 2323 1400 2413 1408 2489 1412 2534 1411 2585 1406 2654 1394 2732 1375 2792 1358 2932 1310Z"/>
<path fill="#62ff9d" stroke="#62ff9d" d="M3228 1190 3229 1198 2943 1306 2807 1353 2732 1375 2654 1394 2585 1406 2534 1411 2477 1412 2394 1407 2294 1397 2211 1387 2008 1356 1561 1281 1562 1273 2029 1351 2245 1383 2341 1394 2425 1401 2487 1404 2536 1403 2587 1398 2658 1385 2722 1370 2791 1350 2931 1302Z"/>
<path fill="#66ff99" stroke="#66ff99" d="M3227 1182 3228 1190 2945 1297 2806 1346 2734 1367 2658 1385 2587 1398 2536 1403 2487 1404 2407 1400 2318 1392 2218 1380 2008 1348 1562 1273 1563 1265 2030 1343 2246 1376 2336 1386 2422 1393 2484 1396 2535 1396 2578 1391 2646 1379 2720 1362 2789 1343 2930 1295Z"/>
<path fill="#6aff95" stroke="#6aff95" d="M3225 1175 3227 1182 2943 1289 2808 1337 2737 1358 2661 1376 2589 1390 2535 1396 2484 1396 2403 1392 2307 1383 2224 1373 2014 1341 1563 1265 1563 1257 2036 1337 2252 1368 2331 1377 2417 1385 2480 1388 2533 1388 2581 1383 2648 1371 2723 1354 2784 1336 2925 1288Z"/>
<path fill="#6eff91" stroke="#6eff91" d="M3224 1167 3225 1175 2938 1283 2803 1330 2727 1352 2664 1368 2592 1381 2533 1388 2480 1388 2398 1383 2303 1374 2220 1364 2015 1333 1563 1257 1564 1249 2037 1329 2253 1361 2326 1369 2412 1377 2487 1380 2533 1380 2582 1375 2652 1362 2726 1345 2790 1326 2930 1278Z"/>
<path fill="#72ff8d" stroke="#72ff8d" d="M3222 1160 3224 1167 2941 1274 2802 1323 2730 1344 2653 1362 2582 1375 2533 1380 2476 1380 2393 1375 2292 1365 2210 1355 2001 1323 1564 1249 1565 1242 2033 1320 2249 1352 2343 1363 2426 1370 2486 1372 2534 1372 2585 1366 2655 1354 2711 1341 2785 1320 2925 1272Z"/>
<path fill="#76ff89" stroke="#76ff89" d="M3221 1152 3222 1160 2939 1267 2800 1315 2733 1335 2656 1353 2585 1366 2534 1372 2486 1372 2407 1368 2316 1360 2221 1349 2017 1318 1565 1242 1566 1234 2039 1313 2250 1345 2334 1354 2421 1361 2483 1364 2534 1364 2587 1358 2643 1348 2714 1332 2780 1313 2920 1265Z"/>
<path fill="#7aff85" stroke="#7aff85" d="M3220 1144 3221 1152 2941 1258 2806 1305 2740 1325 2660 1345 2587 1358 2534 1364 2482 1364 2403 1360 2311 1352 2233 1342 2023 1311 1566 1234 1567 1226 2040 1306 2154 1323 2262 1338 2329 1346 2416 1353 2479 1356 2531 1356 2578 1351 2646 1339 2721 1322 2782 1304 2926 1255Z"/>
<path fill="#7eff81" stroke="#7eff81" d="M3218 1137 3220 1144 2933 1253 2797 1300 2721 1322 2662 1336 2590 1350 2531 1356 2479 1356 2398 1352 2301 1343 2218 1332 2009 1301 1567 1226 1568 1218 2036 1297 2252 1329 2325 1337 2412 1345 2475 1348 2531 1348 2580 1343 2649 1331 2724 1313 2784 1296 2925 1247Z"/>
<path fill="#81ff7e" stroke="#81ff7e" d="M3217 1129 3218 1137 2935 1244 2796 1292 2728 1312 2649 1331 2580 1343 2531 1348 2475 1348 2392 1344 2296 1334 2213 1324 2010 1293 1568 1218 1569 1211 2036 1289 2247 1321 2342 1331 2407 1337 2484 1341 2533 1340 2583 1335 2653 1322 2710 1309 2779 1289 2920 1241Z"/>
<path fill="#85ff7a" stroke="#85ff7a" d="M3215 1121 3217 1129 2937 1235 2802 1282 2731 1303 2655 1322 2583 1335 2533 1340 2484 1341 2407 1337 2314 1328 2231 1318 2026 1288 1569 1211 1570 1203 2048 1283 2259 1314 2338 1323 2420 1330 2481 1333 2532 1332 2585 1326 2640 1317 2713 1300 2774 1283 2915 1235Z"/>
<path fill="#89ff76" stroke="#89ff76" d="M3214 1114 3215 1121 2935 1227 2801 1274 2730 1296 2656 1313 2585 1326 2532 1332 2481 1333 2402 1328 2309 1320 2232 1311 2027 1280 1570 1203 1571 1195 2043 1275 2260 1306 2328 1314 2415 1322 2477 1325 2529 1324 2578 1320 2644 1308 2720 1290 2780 1273 2924 1223Z"/>
<path fill="#8dff72" stroke="#8dff72" d="M3212 1106 3214 1114 2931 1221 2792 1269 2720 1290 2644 1308 2578 1320 2529 1324 2477 1325 2397 1320 2299 1311 2216 1301 2008 1269 1571 1195 1572 1187 2039 1266 2250 1297 2323 1306 2411 1313 2473 1317 2529 1316 2579 1311 2647 1299 2705 1286 2779 1265 2919 1217Z"/>
<path fill="#91ff6e" stroke="#91ff6e" d="M3211 1098 3212 1106 2929 1213 2790 1262 2722 1281 2647 1299 2579 1311 2529 1316 2473 1317 2391 1312 2317 1305 2217 1293 2014 1262 1572 1187 1573 1180 2040 1258 2245 1289 2341 1300 2407 1305 2483 1309 2531 1308 2581 1303 2648 1291 2708 1277 2773 1259 2914 1210Z"/>
<path fill="#95ff6a" stroke="#95ff6a" d="M3210 1091 3211 1098 2935 1203 2800 1250 2729 1271 2651 1290 2581 1303 2531 1308 2483 1309 2406 1305 2312 1297 2240 1288 2035 1257 1573 1180 1574 1172 2046 1251 2161 1269 2268 1284 2336 1291 2419 1298 2479 1301 2530 1300 2584 1295 2638 1285 2711 1268 2772 1251 2913 1203Z"/>
<path fill="#99ff66" stroke="#99ff66" d="M3208 1083 3210 1091 2926 1198 2795 1244 2715 1267 2654 1282 2584 1295 2530 1300 2479 1301 2400 1297 2308 1288 2225 1278 2021 1247 1574 1172 1575 1164 2042 1243 2258 1275 2326 1282 2414 1290 2475 1293 2527 1293 2576 1288 2642 1276 2718 1258 2778 1241 2918 1193Z"/>
<path fill="#9dff62" stroke="#9dff62" d="M3207 1075 3208 1083 2925 1190 2786 1239 2718 1258 2642 1276 2576 1288 2527 1293 2475 1293 2395 1289 2297 1279 2215 1269 2006 1237 1575 1164 1576 1156 2038 1234 2248 1265 2321 1274 2409 1282 2472 1285 2528 1284 2577 1280 2644 1268 2704 1254 2773 1234 2913 1186Z"/>
<path fill="#a1ff5e" stroke="#a1ff5e" d="M3205 1068 3207 1075 2927 1181 2792 1229 2725 1249 2645 1268 2577 1280 2528 1284 2472 1285 2409 1282 2321 1274 2227 1263 2023 1232 1576 1156 1577 1149 2054 1229 2255 1258 2340 1268 2422 1275 2481 1277 2529 1276 2580 1271 2633 1262 2706 1245 2764 1229 2901 1182Z"/>
<path fill="#a5ff5a" stroke="#a5ff5a" d="M3204 1060 3205 1068 2925 1174 2794 1220 2727 1240 2649 1259 2580 1271 2529 1276 2481 1277 2404 1273 2311 1265 2233 1256 2034 1225 1577 1149 1578 1141 2045 1219 2159 1237 2267 1252 2335 1260 2417 1266 2478 1269 2528 1269 2582 1263 2637 1253 2709 1237 2770 1219 2914 1170Z"/>
<path fill="#a9ff56" stroke="#a9ff56" d="M3202 1053 3204 1060 2924 1166 2785 1214 2713 1235 2653 1250 2582 1263 2528 1269 2477 1269 2399 1265 2306 1257 2223 1246 2009 1214 1578 1141 1579 1133 2046 1212 2257 1243 2324 1251 2412 1258 2473 1261 2525 1261 2574 1256 2640 1245 2695 1232 2772 1210 2912 1162Z"/>
<path fill="#adff52" stroke="#adff52" d="M3201 1045 3202 1053 2923 1158 2784 1207 2716 1227 2640 1245 2574 1256 2525 1261 2472 1261 2394 1257 2296 1248 2213 1237 2010 1206 1579 1133 1580 1125 2042 1203 2247 1234 2343 1245 2407 1250 2481 1253 2526 1253 2576 1248 2628 1239 2697 1223 2763 1205 2900 1158Z"/>
<path fill="#b1ff4e" stroke="#b1ff4e" d="M3200 1037 3201 1045 2925 1149 2793 1195 2723 1217 2644 1236 2576 1248 2526 1253 2481 1253 2407 1250 2320 1242 2241 1233 2042 1203 1580 1125 1580 1118 2043 1195 2167 1215 2270 1229 2338 1236 2420 1243 2478 1245 2528 1245 2578 1239 2632 1230 2704 1214 2765 1196 2906 1148Z"/>
<path fill="#b5ff4a" stroke="#b5ff4a" d="M3198 1030 3200 1037 2916 1144 2788 1189 2709 1212 2647 1227 2578 1239 2528 1245 2478 1245 2402 1242 2309 1233 2232 1224 2022 1192 1580 1118 1581 1110 2044 1187 2260 1219 2329 1227 2415 1235 2475 1237 2526 1237 2580 1231 2635 1222 2711 1204 2772 1186 2911 1138Z"/>
<path fill="#b9ff46" stroke="#b9ff46" d="M3197 1022 3198 1030 2918 1135 2779 1184 2711 1204 2651 1218 2581 1231 2526 1237 2475 1237 2397 1233 2299 1224 2216 1214 2008 1182 1581 1110 1582 1102 2045 1180 2250 1210 2323 1219 2410 1226 2471 1229 2523 1229 2572 1224 2639 1213 2694 1200 2762 1181 2903 1133Z"/>
<path fill="#bdff42" stroke="#bdff42" d="M3195 1014 3197 1022 2920 1126 2785 1174 2714 1195 2639 1213 2572 1224 2523 1229 2471 1229 2391 1225 2321 1219 2228 1207 2029 1177 1582 1102 1583 1094 2056 1174 2251 1202 2341 1213 2405 1218 2479 1222 2525 1221 2574 1216 2627 1207 2699 1191 2757 1174 2895 1128Z"/>
<path fill="#c1ff3e" stroke="#c1ff3e" d="M3194 1007 3195 1014 2919 1119 2787 1165 2721 1185 2642 1204 2576 1216 2525 1221 2479 1222 2405 1218 2312 1210 2235 1200 2041 1171 1583 1094 1584 1087 2047 1164 2156 1181 2268 1197 2336 1204 2418 1211 2476 1214 2526 1213 2577 1208 2630 1198 2702 1182 2763 1164 2907 1115Z"/>
<path fill="#c5ff3a" stroke="#c5ff3a" d="M3192 999 3194 1007 2917 1111 2778 1160 2707 1181 2646 1195 2577 1208 2526 1213 2476 1214 2400 1210 2308 1201 2225 1191 2011 1158 1584 1087 1585 1079 2048 1156 2258 1188 2326 1195 2412 1203 2472 1205 2523 1205 2578 1199 2634 1190 2688 1177 2765 1156 2905 1107Z"/>
<path fill="#c9ff36" stroke="#c9ff36" d="M3191 991 3192 999 2912 1105 2777 1152 2709 1172 2636 1189 2578 1199 2523 1205 2472 1205 2394 1201 2326 1195 2220 1183 2017 1151 1585 1079 1586 1071 2049 1149 2249 1178 2344 1189 2407 1194 2469 1197 2522 1197 2571 1192 2622 1184 2690 1169 2752 1151 2890 1105Z"/>
<path fill="#cdff32" stroke="#cdff32" d="M3189 984 3191 991 2918 1095 2787 1141 2716 1162 2654 1177 2582 1191 2522 1197 2469 1197 2407 1194 2321 1187 2243 1178 2044 1148 1586 1071 1587 1063 2050 1141 2164 1159 2272 1173 2340 1181 2420 1187 2477 1190 2524 1189 2573 1184 2628 1175 2697 1159 2758 1141 2822 1121 2906 1091Z"/>
<path fill="#d1ff2e" stroke="#d1ff2e" d="M3188 976 3189 984 2906 1091 2778 1135 2702 1158 2642 1172 2574 1184 2524 1189 2464 1189 2402 1186 2311 1178 2228 1168 2014 1135 1587 1063 1588 1055 2051 1133 2262 1164 2329 1172 2415 1179 2473 1182 2523 1181 2576 1176 2631 1166 2704 1149 2765 1131 2904 1083Z"/>
<path fill="#d5ff2a" stroke="#d5ff2a" d="M3186 968 3188 976 2908 1082 2768 1130 2704 1149 2646 1163 2576 1176 2523 1181 2472 1182 2397 1178 2301 1169 2218 1159 2015 1127 1588 1055 1589 1048 2052 1125 2252 1155 2348 1166 2408 1171 2469 1174 2520 1173 2569 1168 2633 1157 2690 1145 2755 1126 2892 1079Z"/>
<path fill="#d9ff26" stroke="#d9ff26" d="M3185 961 3186 968 2910 1073 2778 1119 2711 1139 2634 1157 2569 1168 2520 1173 2469 1174 2408 1171 2321 1163 2241 1154 2041 1124 1589 1048 1590 1040 2048 1117 2172 1136 2275 1150 2343 1157 2421 1164 2478 1166 2521 1165 2570 1160 2622 1152 2692 1136 2750 1120 2884 1074Z"/>
<path fill="#ddff22" stroke="#ddff22" d="M3183 953 3185 961 2905 1066 2777 1111 2697 1135 2637 1149 2570 1160 2521 1165 2465 1165 2403 1162 2314 1155 2236 1145 2042 1116 1590 1040 1591 1032 2049 1109 2265 1141 2333 1148 2416 1155 2474 1158 2523 1157 2573 1152 2640 1140 2699 1126 2760 1108 2903 1059Z"/>
<path fill="#e1ff1e" stroke="#e1ff1e" d="M3182 945 3183 953 2910 1056 2771 1105 2699 1126 2640 1140 2573 1152 2523 1157 2463 1157 2398 1154 2304 1145 2221 1135 2013 1103 1591 1032 1592 1024 2050 1101 2255 1132 2328 1140 2411 1147 2471 1150 2520 1149 2575 1143 2629 1134 2685 1121 2754 1102 2891 1055Z"/>
<path fill="#e5ff1a" stroke="#e5ff1a" d="M3180 938 3182 945 2908 1049 2773 1096 2706 1116 2643 1131 2575 1143 2520 1149 2470 1150 2393 1146 2322 1139 2233 1129 2034 1099 1592 1024 1593 1016 2056 1094 2245 1122 2318 1131 2406 1139 2466 1142 2518 1141 2567 1137 2618 1128 2687 1113 2745 1097 2879 1051Z"/>
<path fill="#e9ff16" stroke="#e9ff16" d="M3178 930 3180 938 2903 1042 2776 1087 2713 1106 2633 1125 2567 1137 2518 1141 2466 1142 2406 1139 2318 1131 2240 1122 2051 1093 1593 1016 1594 1009 2052 1085 2161 1103 2272 1118 2360 1127 2418 1132 2474 1134 2520 1133 2571 1128 2635 1117 2694 1103 2755 1085 2898 1036Z"/>
<path fill="#edff12" stroke="#edff12" d="M3177 922 3178 930 2905 1033 2766 1082 2694 1103 2637 1116 2571 1128 2520 1133 2474 1134 2400 1130 2307 1122 2226 1112 2016 1080 1594 1009 1595 1001 2053 1078 2258 1108 2327 1116 2413 1123 2470 1126 2520 1125 2572 1120 2625 1111 2701 1093 2757 1076 2893 1029Z"/>
<path fill="#f1ff0e" stroke="#f1ff0e" d="M3175 915 3177 922 2900 1027 2765 1074 2701 1093 2641 1107 2572 1120 2520 1125 2469 1126 2395 1122 2326 1116 2226 1104 2027 1073 1595 1001 1597 993 2054 1070 2248 1099 2344 1110 2407 1115 2466 1118 2517 1117 2563 1113 2616 1104 2682 1090 2740 1074 2875 1028Z"/>
<path fill="#f5ff0a" stroke="#f5ff0a" d="M3174 907 3175 915 2902 1018 2774 1063 2708 1083 2645 1098 2575 1111 2517 1117 2466 1118 2407 1115 2321 1108 2243 1098 2049 1069 1597 993 1598 985 2050 1061 2164 1079 2271 1094 2340 1101 2418 1108 2474 1110 2518 1109 2566 1104 2619 1096 2689 1080 2748 1063 2806 1044 2894 1013Z"/>
<path fill="#f9ff06" stroke="#f9ff06" d="M3172 899 3174 907 2904 1009 2765 1057 2690 1079 2633 1093 2566 1104 2518 1109 2462 1109 2400 1106 2311 1098 2233 1089 2019 1056 1598 985 1599 978 2056 1054 2262 1085 2329 1092 2413 1099 2470 1102 2520 1101 2569 1096 2637 1084 2696 1070 2756 1052 2892 1005Z"/>
<path fill="#fdff02" stroke="#fdff02" d="M3170 892 3172 899 2895 1004 2760 1051 2696 1070 2637 1084 2569 1096 2520 1101 2459 1101 2395 1098 2301 1089 2224 1080 2025 1049 1599 978 1600 970 2057 1046 2252 1075 2347 1086 2408 1091 2468 1094 2517 1093 2572 1087 2625 1078 2681 1065 2739 1049 2873 1004Z"/>
<path fill="#fffd00" stroke="#fffd00" d="M3169 884 3170 892 2901 994 2773 1039 2703 1060 2640 1075 2572 1087 2517 1093 2468 1094 2408 1091 2321 1084 2246 1075 2052 1046 1600 970 1601 962 2053 1038 2167 1056 2275 1070 2404 1083 2462 1085 2515 1085 2563 1080 2614 1072 2684 1057 2743 1040 2801 1021 2889 990Z"/>
<path fill="#fff900" stroke="#fff900" d="M3167 876 3169 884 2896 987 2764 1033 2688 1055 2629 1069 2563 1080 2515 1085 2462 1085 2403 1083 2314 1075 2234 1065 2017 1032 1601 962 1602 954 2059 1031 2265 1061 2356 1071 2414 1075 2471 1078 2517 1077 2567 1072 2631 1061 2691 1047 2751 1029 2887 982Z"/>
<path fill="#fff500" stroke="#fff500" d="M3166 869 3167 876 2891 981 2755 1028 2692 1046 2631 1061 2567 1072 2517 1077 2470 1078 2397 1074 2304 1066 2221 1055 2018 1024 1602 954 1603 946 2060 1023 2255 1052 2322 1060 2409 1067 2466 1070 2516 1069 2569 1063 2622 1054 2676 1042 2741 1024 2875 978Z"/>
<path fill="#fff100" stroke="#fff100" d="M3164 861 3166 869 2899 969 2768 1016 2699 1036 2638 1051 2571 1063 2516 1069 2466 1070 2409 1067 2322 1060 2250 1051 2055 1022 1603 946 1604 938 2056 1014 2171 1032 2278 1047 2341 1054 2420 1060 2474 1062 2513 1061 2561 1057 2612 1048 2682 1033 2740 1016 2884 967Z"/>
<path fill="#ffed00" stroke="#ffed00" d="M3162 853 3164 861 2887 966 2759 1010 2683 1032 2628 1045 2562 1056 2513 1061 2462 1061 2401 1059 2313 1051 2235 1041 2025 1009 1604 938 1605 931 2057 1007 2269 1038 2354 1047 2414 1051 2470 1053 2515 1053 2566 1048 2630 1036 2689 1022 2750 1005 2886 958Z"/>
<path fill="#ffe900" stroke="#ffe900" d="M3161 846 3162 853 2889 957 2753 1004 2689 1022 2630 1036 2566 1048 2515 1053 2469 1053 2396 1050 2303 1042 2220 1031 2016 1000 1605 931 1606 923 2059 999 2253 1028 2326 1036 2409 1043 2466 1045 2515 1045 2566 1040 2619 1031 2675 1018 2740 1000 2874 954Z"/>
<path fill="#ffe500" stroke="#ffe500" d="M3159 838 3161 846 2894 946 2763 992 2696 1012 2633 1028 2566 1040 2515 1045 2466 1045 2409 1043 2326 1036 2253 1028 2059 999 1606 923 1607 915 2055 990 2174 1009 2276 1023 2341 1030 2418 1036 2472 1037 2512 1037 2567 1031 2621 1022 2677 1009 2734 993 2794 974 2879 944Z"/>
<path fill="#ffe100" stroke="#ffe100" d="M3157 830 3159 838 2882 943 2757 986 2681 1008 2623 1022 2567 1031 2512 1037 2462 1037 2403 1035 2316 1027 2238 1018 2029 986 1607 915 1609 907 2061 983 2267 1013 2334 1021 2413 1027 2469 1029 2513 1028 2571 1023 2628 1013 2686 999 2744 982 2880 935Z"/>
<path fill="#ffdd00" stroke="#ffdd00" d="M3155 823 3157 830 2884 933 2748 981 2686 999 2628 1013 2571 1023 2513 1028 2457 1029 2394 1026 2306 1018 2223 1008 2020 976 1609 907 1610 899 2062 975 2257 1004 2324 1012 2408 1019 2465 1021 2514 1020 2564 1015 2617 1006 2670 995 2735 976 2868 931Z"/>
<path fill="#ffd900" stroke="#ffd900" d="M3154 815 3155 823 2889 923 2761 968 2695 988 2632 1003 2574 1014 2514 1020 2465 1021 2408 1019 2324 1012 2251 1003 2057 974 1610 899 1611 891 2058 967 2172 984 2280 999 2403 1011 2461 1013 2511 1012 2566 1007 2620 998 2676 985 2733 969 2877 919Z"/>
<path fill="#ffd500" stroke="#ffd500" d="M3152 807 3154 815 2880 918 2756 962 2676 985 2621 998 2566 1007 2511 1012 2449 1013 2385 1009 2314 1003 2236 993 2023 961 1611 891 1612 884 2059 959 2265 989 2333 997 2399 1002 2457 1005 2510 1004 2559 1000 2623 989 2682 975 2743 958 2879 910Z"/>
<path fill="#ffd100" stroke="#ffd100" d="M3150 800 3152 807 2882 909 2746 956 2682 975 2623 989 2559 1000 2510 1004 2456 1005 2380 1001 2304 994 2221 983 2023 953 1612 884 1613 876 2065 952 2255 980 2323 988 2406 995 2464 997 2513 996 2561 991 2614 983 2667 971 2733 952 2863 908Z"/>
<path fill="#ffcd00" stroke="#ffcd00" d="M3148 792 3150 800 2887 899 2760 944 2691 965 2630 979 2573 990 2513 996 2464 997 2406 995 2323 988 2250 979 2060 951 1613 876 1614 868 2061 943 2171 960 2278 975 2402 986 2461 989 2510 988 2565 983 2618 974 2674 961 2731 945 2875 895Z"/>
<path fill="#ffc900" stroke="#ffc900" d="M3147 784 3148 792 2885 891 2750 938 2674 961 2619 973 2565 983 2510 988 2461 989 2401 986 2313 979 2235 969 2020 936 1614 868 1615 860 2063 935 2265 965 2397 978 2456 981 2509 980 2557 976 2622 965 2681 951 2737 934 2873 887Z"/>
<path fill="#ffc500" stroke="#ffc500" d="M3145 776 3147 784 2877 886 2745 932 2681 951 2622 965 2557 976 2509 980 2455 981 2378 977 2302 969 2220 959 2022 928 1615 860 1617 852 2064 927 2253 956 2321 963 2404 970 2463 973 2511 972 2560 967 2612 958 2666 946 2723 930 2854 886Z"/>
<path fill="#ffc100" stroke="#ffc100" d="M3143 769 3145 776 2882 876 2758 919 2689 940 2628 955 2571 965 2511 972 2463 973 2404 970 2321 963 2248 955 2059 926 1617 852 1618 844 2060 919 2164 935 2277 950 2400 962 2459 965 2508 964 2563 958 2616 949 2672 936 2729 920 2870 872Z"/>
<path fill="#ffbd00" stroke="#ffbd00" d="M3141 761 3143 769 2883 867 2745 915 2672 936 2617 949 2563 958 2508 964 2459 965 2400 962 2311 954 2233 945 2024 913 1618 844 1619 837 2061 911 2261 940 2329 948 2395 954 2454 956 2507 956 2555 951 2606 943 2657 932 2731 911 2864 865Z"/>
<path fill="#ffb900" stroke="#ffb900" d="M3139 753 3141 761 2875 862 2743 907 2679 926 2620 940 2555 951 2507 956 2454 956 2394 954 2329 948 2229 936 2036 907 1619 837 1620 829 2066 903 2263 933 2342 941 2405 946 2461 948 2509 947 2558 943 2610 934 2664 922 2718 907 2849 863Z"/>
<path fill="#ffb500" stroke="#ffb500" d="M3138 746 3139 753 2880 851 2756 895 2688 916 2626 931 2570 941 2509 947 2461 948 2403 946 2319 939 2246 930 2062 903 1620 829 1622 821 2064 895 2274 926 2399 938 2457 940 2506 939 2561 934 2615 925 2671 912 2730 895 2867 848Z"/>
<path fill="#ffb100" stroke="#ffb100" d="M3136 738 3138 746 2874 845 2739 892 2671 912 2615 925 2561 934 2506 939 2444 940 2380 937 2309 930 2228 920 2023 888 1622 821 1623 813 2065 887 2260 916 2327 924 2393 929 2452 932 2505 931 2553 927 2604 919 2656 907 2725 888 2859 842Z"/>
<path fill="#ffad00" stroke="#ffad00" d="M3134 730 3136 738 2872 837 2744 882 2679 901 2618 916 2565 925 2505 931 2452 932 2393 929 2326 924 2244 914 2055 885 1623 813 1624 805 2061 878 2181 897 2283 911 2403 922 2459 924 2508 923 2556 918 2609 910 2662 898 2719 881 2857 835Z"/>
<path fill="#ffa900" stroke="#ffa900" d="M3132 723 3134 730 2871 830 2750 872 2687 891 2625 906 2568 917 2508 923 2459 924 2401 922 2317 915 2239 905 2041 875 1624 805 1625 797 2068 871 2268 901 2396 913 2454 916 2504 915 2560 910 2613 900 2671 887 2729 870 2865 823Z"/>
<path fill="#ffa500" stroke="#ffa500" d="M3130 715 3132 723 2865 823 2733 869 2671 887 2613 900 2560 910 2504 915 2442 916 2378 912 2304 905 2225 895 2026 865 1625 797 1627 789 2064 863 2253 891 2323 899 2392 905 2451 908 2504 907 2552 902 2603 894 2656 883 2715 866 2846 822Z"/>
<path fill="#ffa100" stroke="#ffa100" d="M3128 707 3130 715 2870 813 2746 856 2679 876 2619 891 2563 901 2504 907 2451 908 2392 905 2323 899 2253 891 2064 863 1627 789 1628 781 2065 855 2169 871 2277 886 2400 897 2456 900 2505 899 2555 894 2608 885 2664 872 2721 856 2861 808Z"/>
<path fill="#ff9d00" stroke="#ff9d00" d="M3126 699 3128 707 2875 803 2740 850 2664 872 2609 885 2555 894 2505 899 2446 899 2382 896 2310 890 2234 880 2024 848 1628 781 1629 774 2066 847 2263 876 2329 883 2395 889 2451 891 2502 891 2557 885 2611 876 2670 862 2723 847 2856 801Z"/>
<path fill="#ff9900" stroke="#ff9900" d="M3124 692 3126 699 2866 797 2735 843 2670 862 2611 876 2557 885 2502 891 2451 891 2393 889 2329 883 2229 871 2036 842 1629 774 1631 766 2063 838 2184 857 2285 871 2403 881 2458 883 2503 882 2551 878 2602 869 2655 858 2713 842 2843 797Z"/>
<path fill="#ff9500" stroke="#ff9500" d="M3122 684 3124 692 2864 790 2743 832 2680 851 2618 866 2560 877 2503 882 2446 883 2386 880 2319 874 2245 865 2056 837 1631 766 1632 758 2064 830 2270 861 2398 873 2453 875 2503 874 2555 869 2606 860 2664 847 2722 830 2859 783Z"/>
<path fill="#ff9100" stroke="#ff9100" d="M3120 676 3122 684 2862 782 2730 828 2664 847 2608 860 2555 869 2503 874 2451 875 2380 872 2306 865 2226 855 2028 824 1632 758 1633 750 2065 822 2255 851 2324 859 2389 864 2448 867 2499 866 2547 862 2597 854 2651 842 2709 826 2839 782Z"/>
<path fill="#ff8d00" stroke="#ff8d00" d="M3118 668 3120 676 2863 773 2739 816 2672 836 2613 851 2558 860 2499 866 2448 867 2389 864 2322 858 2249 850 2065 822 1633 750 1635 742 2067 814 2171 831 2278 845 2402 857 2455 859 2502 858 2551 853 2601 845 2657 832 2714 816 2854 768Z"/>
<path fill="#ff8900" stroke="#ff8900" d="M3116 661 3118 668 2868 763 2733 810 2682 825 2616 842 2552 853 2502 858 2455 859 2383 856 2312 849 2234 840 2026 808 1635 742 1636 734 2068 806 2263 835 2392 848 2450 850 2499 850 2554 844 2608 835 2663 822 2716 807 2845 762Z"/>
<path fill="#ff8500" stroke="#ff8500" d="M3114 653 3116 661 2859 757 2731 802 2666 821 2608 835 2554 844 2499 850 2450 850 2391 848 2325 842 2236 832 2047 803 1636 734 1637 726 2064 798 2184 816 2281 829 2402 840 2456 842 2499 841 2546 837 2598 829 2651 817 2706 802 2840 756Z"/>
<path fill="#ff8100" stroke="#ff8100" d="M3111 645 3114 653 2857 750 2736 792 2674 811 2613 826 2558 835 2499 841 2445 842 2387 839 2317 833 2243 824 2049 795 1637 726 1639 718 2071 791 2269 820 2395 832 2451 834 2500 833 2550 828 2603 819 2659 806 2719 789 2851 743Z"/>
<path fill="#ff7e00" stroke="#ff7e00" d="M3109 637 3111 645 2855 742 2723 788 2659 806 2603 819 2550 828 2500 833 2441 834 2377 831 2305 824 2223 814 2030 784 1639 718 1640 710 2067 782 2251 809 2321 817 2387 823 2446 826 2496 825 2543 821 2593 813 2645 801 2701 786 2829 743Z"/>
<path fill="#ff7a00" stroke="#ff7a00" d="M3107 630 3109 637 2856 733 2736 775 2669 795 2609 810 2552 820 2496 825 2446 826 2387 823 2321 817 2251 809 2067 782 1640 710 1642 702 2069 774 2275 804 2398 816 2452 818 2498 817 2547 812 2598 804 2654 791 2711 775 2847 728Z"/>
<path fill="#ff7600" stroke="#ff7600" d="M3105 622 3107 630 2857 724 2726 770 2654 791 2598 803 2547 812 2498 817 2452 818 2380 814 2309 808 2231 798 2033 768 1642 702 1643 694 2075 767 2260 794 2389 807 2447 809 2496 808 2539 805 2590 797 2642 785 2704 768 2835 724Z"/>
<path fill="#ff7200" stroke="#ff7200" d="M3103 614 3105 622 2855 716 2729 760 2664 780 2604 794 2550 803 2496 808 2447 809 2389 807 2325 801 2254 793 2070 766 1643 694 1645 686 2066 757 2170 773 2278 788 2399 799 2453 801 2495 800 2543 796 2594 787 2649 775 2706 759 2843 712Z"/>
<path fill="#ff6e00" stroke="#ff6e00" d="M3100 606 3103 614 2856 707 2725 753 2670 769 2608 785 2555 794 2495 800 2442 801 2383 798 2312 792 2236 783 2031 751 1645 686 1646 678 2073 750 2263 778 2391 790 2447 793 2496 792 2547 787 2600 778 2657 764 2707 750 2837 705Z"/>
<path fill="#ff6a00" stroke="#ff6a00" d="M3098 598 3100 606 2851 700 2723 745 2657 764 2600 778 2547 787 2496 792 2447 793 2391 790 2325 785 2241 775 2053 747 1646 678 1648 670 2070 741 2179 758 2281 772 2400 783 2453 784 2492 784 2540 779 2590 771 2644 759 2698 744 2838 696Z"/>
<path fill="#ff6600" stroke="#ff6600" d="M3096 591 3098 598 2841 695 2724 736 2668 753 2606 768 2551 778 2492 784 2442 784 2383 782 2315 776 2241 767 2034 735 1648 670 1649 662 2071 733 2266 762 2392 774 2448 776 2495 775 2544 770 2596 762 2653 749 2710 732 2839 687Z"/>
<path fill="#ff6200" stroke="#ff6200" d="M3093 583 3096 591 2846 685 2718 730 2654 748 2596 762 2544 770 2495 775 2436 776 2376 773 2301 766 2234 758 2045 729 1649 662 1651 654 2073 725 2187 743 2285 756 2400 766 2451 768 2492 767 2537 763 2586 755 2638 744 2693 729 2825 684Z"/>
<path fill="#ff5e00" stroke="#ff5e00" d="M3091 575 3093 583 2840 678 2723 719 2663 737 2601 752 2547 762 2492 767 2442 768 2385 765 2319 760 2245 751 2052 722 1651 654 1652 646 2074 717 2268 746 2393 757 2446 759 2493 758 2541 754 2593 745 2648 733 2705 716 2834 672Z"/>
<path fill="#ff5a00" stroke="#ff5a00" d="M3089 567 3091 575 2841 669 2713 714 2648 733 2593 745 2541 754 2493 758 2436 759 2375 756 2304 750 2226 740 2038 711 1652 646 1654 638 2066 708 2272 738 2344 745 2401 750 2442 751 2491 750 2534 746 2584 739 2636 727 2691 712 2815 670Z"/>
<path fill="#ff5600" stroke="#ff5600" d="M3086 559 3089 567 2842 660 2725 701 2658 721 2600 735 2545 745 2491 750 2442 751 2384 749 2319 743 2244 734 2066 707 1654 638 1656 630 2072 700 2270 729 2393 741 2447 743 2490 742 2538 737 2590 729 2645 716 2704 699 2833 655Z"/>
<path fill="#ff5200" stroke="#ff5200" d="M3084 552 3086 559 2836 654 2708 698 2645 716 2590 729 2538 737 2490 742 2437 743 2375 740 2304 733 2224 723 2036 694 1656 630 1657 622 2071 692 2270 721 2344 729 2399 733 2453 734 2490 733 2533 730 2581 722 2631 711 2685 696 2810 655Z"/>
<path fill="#ff4e00" stroke="#ff4e00" d="M3081 544 3084 552 2841 643 2724 684 2656 705 2596 719 2543 728 2490 733 2441 734 2384 732 2321 727 2248 718 2069 691 1657 622 1659 614 2076 684 2270 713 2392 724 2447 726 2488 725 2536 721 2587 712 2642 700 2698 684 2828 639Z"/>
<path fill="#ff4a00" stroke="#ff4a00" d="M3079 536 3081 544 2835 637 2706 681 2642 700 2587 712 2536 721 2488 725 2435 726 2375 723 2305 717 2223 706 2035 677 1659 614 1661 606 2072 675 2273 705 2342 712 2397 716 2452 718 2489 717 2532 713 2579 706 2630 694 2684 679 2808 638Z"/>
<path fill="#ff4600" stroke="#ff4600" d="M3076 528 3079 536 2836 628 2718 669 2653 688 2594 703 2540 712 2489 717 2440 717 2385 715 2319 710 2246 701 2067 674 1661 606 1662 598 2074 667 2270 696 2391 707 2446 709 2486 708 2534 704 2585 696 2640 683 2697 667 2826 622Z"/>
<path fill="#ff4200" stroke="#ff4200" d="M3073 520 3076 528 2829 621 2704 664 2640 683 2585 696 2535 704 2486 708 2434 709 2374 706 2303 700 2226 690 2038 661 1662 598 1664 590 2071 658 2187 676 2283 689 2399 699 2450 701 2488 700 2527 696 2576 689 2628 677 2682 663 2809 619Z"/>
<path fill="#ff3e00" stroke="#ff3e00" d="M3071 512 3073 520 2834 611 2717 652 2651 671 2592 686 2538 695 2488 700 2439 701 2383 698 2317 693 2244 684 2060 657 1664 590 1666 582 2078 651 2268 679 2390 690 2444 692 2484 691 2532 687 2583 679 2638 666 2691 651 2817 608Z"/>
<path fill="#ff3a00" stroke="#ff3a00" d="M3068 504 3071 512 2827 604 2702 647 2638 666 2583 679 2532 687 2484 691 2432 692 2373 689 2302 683 2225 673 2042 645 1666 582 1668 574 2074 642 2184 659 2281 672 2397 682 2448 684 2486 683 2529 679 2575 672 2627 660 2680 646 2814 600Z"/>
<path fill="#ff3600" stroke="#ff3600" d="M3065 497 3068 504 2825 596 2711 636 2650 654 2590 669 2537 678 2486 683 2437 684 2381 681 2315 676 2243 667 2049 638 1668 574 1669 566 2076 634 2263 661 2327 669 2388 673 2442 675 2483 674 2531 670 2581 662 2636 649 2685 635 2812 592Z"/>
<path fill="#ff3200" stroke="#ff3200" d="M3062 489 3065 497 2825 587 2700 630 2638 649 2582 662 2531 670 2483 674 2430 675 2371 672 2300 666 2234 658 2051 630 1669 566 1671 558 2078 626 2177 641 2280 655 2395 665 2446 667 2484 666 2527 662 2574 655 2626 643 2682 627 2816 582Z"/>
<path fill="#ff2e00" stroke="#ff2e00" d="M3059 481 3062 489 2833 575 2705 620 2650 637 2589 652 2535 661 2484 666 2435 667 2378 664 2312 659 2237 650 2037 619 1671 558 1673 550 2080 618 2260 644 2323 651 2385 656 2440 658 2481 657 2529 653 2579 645 2634 632 2679 619 2802 578Z"/>
<path fill="#ff2a00" stroke="#ff2a00" d="M3057 473 3059 481 2823 570 2702 612 2638 631 2581 645 2529 653 2481 657 2428 658 2382 656 2322 651 2243 642 2065 615 1673 550 1675 542 2077 609 2273 637 2391 648 2444 650 2482 649 2525 645 2575 637 2627 625 2683 609 2813 565Z"/>
<path fill="#ff2600" stroke="#ff2600" d="M3054 465 3057 473 2824 561 2699 604 2648 620 2589 634 2534 644 2482 649 2432 650 2375 647 2307 641 2229 632 2041 603 1675 542 1677 533 2079 601 2264 628 2381 639 2437 641 2480 640 2520 637 2566 630 2616 619 2673 604 2796 562Z"/>
<path fill="#ff2200" stroke="#ff2200" d="M3051 457 3054 465 2824 552 2707 593 2639 613 2581 627 2528 636 2480 640 2437 641 2381 639 2318 634 2248 626 2074 600 1677 533 1679 525 2081 592 2266 619 2329 626 2387 631 2430 632 2479 632 2523 628 2573 620 2628 607 2681 592 2807 549Z"/>
<path fill="#ff1e00" stroke="#ff1e00" d="M3047 449 3051 457 2814 546 2692 588 2628 607 2573 620 2523 628 2479 632 2429 632 2371 630 2301 624 2228 615 2045 587 1679 525 1681 517 2078 583 2177 599 2280 613 2393 623 2433 624 2480 623 2517 620 2569 612 2618 601 2671 586 2804 541Z"/>
<path fill="#ff1a00" stroke="#ff1a00" d="M3044 441 3047 449 2815 537 2700 577 2641 595 2581 609 2528 618 2480 623 2433 624 2377 622 2312 616 2239 607 2042 578 1681 517 1683 509 2080 575 2260 602 2322 609 2383 613 2436 615 2475 614 2523 610 2574 602 2625 590 2670 577 2794 535Z"/>
<path fill="#ff1600" stroke="#ff1600" d="M3041 433 3044 441 2815 528 2695 570 2630 589 2575 602 2523 610 2475 614 2425 615 2365 612 2238 599 2065 573 1683 509 1685 501 2077 566 2270 594 2330 601 2388 605 2440 606 2477 605 2520 602 2567 594 2620 582 2678 566 2804 522Z"/>
<path fill="#ff1200" stroke="#ff1200" d="M3038 425 3041 433 2811 520 2690 562 2634 579 2581 592 2528 601 2477 605 2429 606 2371 604 2303 598 2229 589 2046 561 1685 501 1688 492 2079 558 2184 574 2281 587 2393 597 2443 598 2475 597 2522 593 2561 586 2611 576 2663 561 2794 517Z"/>
<path fill="#ff0e00" stroke="#ff0e00" d="M3034 417 3038 425 2808 512 2694 552 2634 570 2576 583 2523 592 2475 597 2432 598 2376 596 2313 590 2242 582 2054 554 1688 492 1690 484 2076 549 2257 575 2321 583 2382 587 2425 589 2473 588 2518 584 2567 576 2623 564 2667 551 2791 509Z"/>
<path fill="#ff0a00" stroke="#ff0a00" d="M3031 409 3034 417 2808 503 2688 545 2624 563 2568 576 2518 584 2473 588 2424 589 2366 586 2240 573 2066 547 1690 484 1692 476 2079 541 2270 568 2386 579 2436 580 2475 579 2524 575 2563 568 2614 557 2671 541 2798 497Z"/>
<path fill="#ff0600" stroke="#ff0600" d="M3027 401 3031 409 2808 493 2687 536 2636 551 2578 565 2524 575 2475 579 2427 580 2369 578 2303 572 2226 563 2043 535 1692 476 1694 468 2081 532 2180 547 2278 561 2390 570 2471 570 2519 566 2558 560 2607 549 2660 535 2791 491Z"/>
<path fill="#ff0200" stroke="#ff0200" d="M3024 393 3027 401 2801 487 2691 525 2630 543 2571 558 2519 566 2471 570 2429 571 2374 569 2310 564 2239 556 2045 526 1694 468 1697 459 2094 526 2269 551 2381 561 2432 563 2476 561 2525 556 2565 550 2619 537 2664 524 2783 484Z"/>
<path fill="#fd0000" stroke="#fd0000" d="M3020 385 3024 393 2801 477 2687 517 2623 536 2578 547 2525 556 2476 561 2432 563 2378 561 2317 556 2247 548 2073 522 1697 459 1699 451 2081 515 2262 541 2323 548 2382 552 2433 554 2471 553 2520 548 2559 542 2613 529 2667 514 2790 472Z"/>
<path fill="#f90000" stroke="#f90000" d="M3016 377 3020 385 2797 469 2679 510 2619 528 2574 539 2521 548 2471 553 2423 554 2366 551 2296 545 2234 537 2055 511 1699 451 1702 443 2078 505 2269 533 2329 540 2385 544 2425 545 2468 544 2508 540 2554 533 2606 522 2662 506 2786 464Z"/>
<path fill="#f50000" stroke="#f50000" d="M3012 369 3016 377 2803 458 2682 500 2627 516 2569 530 2517 539 2468 544 2422 545 2369 543 2303 537 2231 528 2048 501 1702 443 1704 434 2081 497 2180 512 2278 525 2385 535 2465 535 2502 532 2549 525 2600 514 2652 500 2782 456Z"/>
<path fill="#f10000" stroke="#f10000" d="M3008 361 3012 369 2793 452 2682 491 2622 508 2564 522 2512 531 2465 535 2426 536 2372 534 2309 529 2238 520 2050 492 1704 434 1707 426 2089 490 2275 516 2337 522 2389 526 2438 527 2470 526 2509 522 2559 514 2610 502 2655 490 2771 450Z"/>
<path fill="#ed0000" stroke="#ed0000" d="M3004 353 3008 361 2795 441 2682 481 2618 500 2574 511 2521 520 2470 526 2428 527 2374 525 2313 520 2247 513 2079 488 1707 426 1710 417 2081 479 2256 505 2318 512 2376 516 2427 518 2466 517 2515 512 2555 505 2609 493 2654 480 2774 440Z"/>
<path fill="#e90000" stroke="#e90000" d="M3000 345 3004 353 2788 435 2673 474 2614 492 2569 503 2516 512 2466 517 2417 518 2361 515 2240 503 2066 477 1710 417 1713 409 2079 470 2260 496 2322 503 2377 507 2418 508 2464 508 2502 504 2550 497 2604 485 2653 471 2773 430Z"/>
<path fill="#e50000" stroke="#e50000" d="M2995 337 3000 345 2783 426 2669 466 2609 484 2563 494 2512 503 2464 508 2418 508 2361 506 2294 500 2232 493 2059 467 1713 409 1716 400 2082 462 2264 488 2323 494 2379 498 2422 499 2461 498 2508 494 2547 488 2599 477 2653 461 2772 421Z"/>
<path fill="#e10000" stroke="#e10000" d="M2991 329 2995 337 2786 416 2668 457 2616 472 2562 485 2509 494 2461 498 2415 499 2362 497 2297 492 2224 483 2046 456 1716 400 1719 392 2080 452 2266 479 2379 489 2459 489 2506 485 2547 479 2595 468 2648 453 2771 411Z"/>
<path fill="#dd0000" stroke="#dd0000" d="M2986 321 2991 329 2785 406 2667 447 2611 464 2557 477 2506 485 2459 489 2419 490 2364 488 2300 483 2227 474 2049 447 1719 392 1722 383 2083 444 2269 470 2380 480 2418 481 2465 479 2513 475 2555 467 2593 459 2646 444 2769 402Z"/>
<path fill="#d90000" stroke="#d90000" d="M2981 312 2986 321 2790 394 2673 435 2614 453 2556 467 2513 475 2465 479 2417 481 2364 479 2300 474 2231 465 2052 439 1722 383 1725 375 2087 435 2269 461 2379 470 2423 471 2463 470 2505 466 2549 459 2588 450 2642 435 2764 394Z"/>
<path fill="#d50000" stroke="#d50000" d="M2976 304 2981 312 2785 386 2672 426 2612 444 2554 458 2511 465 2463 470 2417 471 2363 470 2300 464 2229 456 2050 429 1725 375 1728 366 2085 425 2268 452 2378 461 2421 462 2461 461 2499 457 2548 449 2586 441 2640 426 2763 384Z"/>
<path fill="#d10000" stroke="#d10000" d="M2971 296 2976 304 2783 377 2670 416 2610 435 2553 448 2510 456 2461 461 2416 462 2362 460 2300 455 2227 446 2049 420 1728 366 1732 357 2083 416 2266 442 2376 451 2419 452 2459 451 2502 447 2546 440 2588 430 2639 416 2757 376Z"/>
<path fill="#cd0000" stroke="#cd0000" d="M2966 287 2971 296 2782 367 2668 407 2608 425 2551 439 2508 446 2459 451 2414 452 2360 451 2297 445 2226 437 2052 411 1732 357 1735 348 2087 407 2263 432 2373 442 2418 443 2458 441 2506 437 2548 429 2586 421 2639 406 2755 366Z"/>
<path fill="#c90000" stroke="#c90000" d="M2960 279 2966 287 2773 360 2662 398 2607 415 2549 429 2506 437 2458 441 2410 443 2357 441 2293 435 2230 428 2056 402 1735 348 1739 340 2091 398 2261 422 2370 432 2409 433 2456 432 2497 428 2547 419 2588 410 2637 396 2753 357Z"/>
<path fill="#c50000" stroke="#c50000" d="M2954 271 2960 279 2770 350 2660 389 2605 405 2548 419 2497 428 2456 432 2409 433 2356 431 2290 426 2234 419 2065 394 1739 340 1743 331 2100 390 2266 413 2367 422 2416 423 2452 422 2494 418 2534 412 2585 400 2630 387 2743 349Z"/>
<path fill="#c10000" stroke="#c10000" d="M2947 262 2954 271 2761 343 2653 380 2598 397 2548 409 2495 418 2452 422 2408 423 2361 422 2306 417 2238 410 2074 386 1743 331 1747 322 2084 378 2183 393 2271 404 2373 412 2449 412 2491 408 2534 401 2578 391 2623 379 2733 342Z"/>
<path fill="#bd0000" stroke="#bd0000" d="M2941 254 2947 262 2758 333 2654 369 2595 387 2550 398 2497 407 2449 412 2401 413 2360 412 2301 407 2235 400 2073 376 1747 322 1752 313 2083 368 2260 393 2366 402 2408 403 2447 402 2487 398 2536 390 2574 382 2624 368 2741 329Z"/>
<path fill="#b90000" stroke="#b90000" d="M2934 245 2941 254 2765 320 2655 358 2595 376 2542 389 2497 397 2447 402 2406 403 2353 401 2293 396 2226 389 2057 364 1752 313 1756 303 2103 361 2270 384 2366 392 2408 393 2447 391 2487 388 2528 381 2575 371 2620 358 2730 321Z"/>
<path fill="#b50000" stroke="#b50000" d="M2926 236 2934 245 2751 314 2647 350 2592 366 2540 379 2489 387 2447 391 2401 393 2360 392 2304 388 2236 380 2072 356 1756 303 1761 294 2088 348 2262 373 2367 381 2441 381 2490 377 2528 370 2566 362 2613 349 2729 310Z"/>
<path fill="#b10000" stroke="#b10000" d="M2919 228 2926 236 2747 304 2647 338 2588 356 2538 368 2490 377 2441 381 2401 382 2352 381 2293 376 2225 368 2057 343 1761 294 1767 285 2103 341 2270 363 2368 371 2442 370 2482 366 2523 360 2570 349 2615 337 2725 300Z"/>
<path fill="#ad0000" stroke="#ad0000" d="M2910 219 2919 228 2742 294 2642 328 2587 345 2534 358 2490 365 2442 370 2395 372 2355 370 2300 366 2237 359 2078 336 1767 285 1772 275 2094 328 2260 352 2359 360 2437 359 2477 356 2522 349 2561 340 2610 327 2720 290Z"/>
<path fill="#a90000" stroke="#a90000" d="M2901 210 2910 219 2744 281 2640 317 2584 334 2527 348 2483 355 2437 359 2397 361 2344 359 2226 348 2063 324 1772 275 1778 266 2084 316 2255 340 2358 349 2433 348 2470 345 2515 338 2553 330 2604 316 2717 278Z"/>
<path fill="#a50000" stroke="#a50000" d="M2891 201 2901 210 2735 272 2638 306 2579 323 2530 335 2480 344 2433 348 2393 349 2344 348 2284 343 2217 336 2053 311 1778 266 1785 256 2091 306 2257 329 2354 337 2431 337 2473 333 2512 327 2550 318 2598 306 2711 268Z"/>
<path fill="#a10000" stroke="#a10000" d="M2880 192 2891 201 2728 262 2635 294 2576 312 2527 324 2476 332 2431 337 2389 338 2341 337 2283 332 2218 325 2055 301 1785 256 1792 246 2098 296 2260 318 2351 325 2426 325 2463 322 2508 315 2547 307 2597 293 2703 258Z"/>
<path fill="#9d0000" stroke="#9d0000" d="M2869 182 2880 192 2731 247 2631 282 2572 300 2523 312 2474 320 2426 325 2386 326 2337 325 2277 320 2221 314 2062 290 1792 246 1800 235 2075 281 2224 302 2336 312 2382 314 2424 313 2462 309 2498 304 2541 295 2587 282 2691 248Z"/>
<path fill="#990000" stroke="#990000" d="M2855 173 2869 182 2719 238 2626 270 2571 287 2518 300 2473 308 2424 313 2382 314 2336 312 2224 302 2075 281 1800 235 1808 225 2064 267 2217 289 2274 295 2331 300 2377 301 2419 300 2461 296 2500 290 2539 281 2585 269 2688 235Z"/>
<path fill="#950000" stroke="#950000" d="M2841 163 2855 173 2713 226 2626 256 2569 273 2518 286 2467 295 2419 300 2377 301 2331 300 2274 295 2217 289 2064 267 1808 225 1818 213 2069 255 2217 276 2327 286 2371 287 2415 286 2457 282 2496 276 2576 256 2680 222Z"/>
<path fill="#910000" stroke="#910000" d="M2824 152 2841 163 2704 213 2619 243 2560 261 2511 273 2463 281 2415 286 2371 287 2327 286 2217 276 2069 255 1818 213 1829 202 2075 242 2219 262 2320 271 2368 273 2407 272 2445 268 2483 263 2522 254 2565 243 2662 212Z"/>
<path fill="#8d0000" stroke="#8d0000" d="M2804 142 2824 152 2701 198 2619 227 2557 246 2508 258 2456 267 2407 272 2368 273 2320 271 2219 262 2075 242 1829 202 1843 189 2078 228 2218 247 2319 256 2360 257 2400 256 2438 253 2473 247 2511 240 2554 229 2652 197Z"/>
<path fill="#890000" stroke="#890000" d="M2779 130 2804 142 2652 197 2559 227 2482 246 2449 251 2408 255 2368 257 2326 256 2273 253 2218 247 2078 228 1843 189 1859 176 2080 212 2214 230 2316 238 2358 239 2399 238 2435 234 2470 229 2547 211 2638 182Z"/>
<path fill="#850000" stroke="#850000" d="M2748 117 2779 130 2638 182 2547 211 2470 229 2435 234 2399 238 2358 239 2316 238 2214 230 2080 212 1859 176 1880 160 2086 193 2210 210 2308 218 2349 219 2389 217 2458 208 2532 191 2619 164Z"/>
<path fill="#810000" stroke="#810000" d="M2704 102 2748 117 2619 164 2532 191 2458 208 2390 217 2349 219 2308 218 2210 210 2086 193 1880 160 1909 142 2090 171 2204 185 2298 192 2339 193 2378 191 2446 182 2511 167 2592 142Z"/>
<path fill="#800000" stroke="#800000" d="M2629 82 2704 102 2595 141 2515 166 2448 182 2385 190 2344 193 2303 193 2210 186 2090 171 1909 142 1958 116 2105 138 2206 150 2288 154 2360 152 2415 145 2475 132 2543 112Z"/>
<path fill="#800000" stroke="#800000" d="M2226 6 2484 52 2629 82 2536 114 2464 135 2402 147 2334 154 2268 154 2191 148 2094 136 1958 116 2055 73Z"/>
<path class="m" d="M2226 6 1994 99 1930 130 1880 160 1837 195 1800 235 1768 283 1739 339 1714 404 1691 481 1667 575 1646 681 1624 807 1602 954 1527 1542 1506 1644 1496 1676 1485 1698 1471 1712 1451 1722 884 1938M2226 6 2443 45 2575 70 2671 93 2747 117 2813 146 2868 182 2917 226 2960 279 2998 341 3033 414 3068 506 3101 609 3134 732 3167 876 3256 1337 3281 1455 3296 1511 3311 1555 3327 1585 3344 1606 3365 1618 3395 1625 4251 1771M2378 33 2147 125 2083 156 2033 186 1989 221 1952 262 1920 309 1892 366 1867 431 1843 507 1820 602 1798 708 1776 834 1754 980 1679 1568 1659 1671 1649 1702 1637 1725 1624 1738 1603 1748 1037 1964M2125 45 2342 84 2474 109 2570 132 2646 156 2712 185 2768 221 2816 265 2859 318 2897 380 2932 453 2967 545 3000 648 3033 771 3066 915 3155 1376 3180 1494 3195 1550 3210 1594 3226 1624 3243 1645 3264 1657 3294 1664 4150 1810M2530 61 2299 154 2235 184 2185 215 2141 249 2105 290 2073 337 2044 394 2019 459 1996 535 1972 630 1950 736 1929 862 1907 1008 1831 1596 1811 1699 1801 1730 1789 1753 1776 1766 1756 1776 1189 1992M2024 86 2241 124 2373 150 2469 173 2545 197 2611 226 2667 262 2715 305 2758 358 2796 420 2831 494 2867 585 2899 689 2932 812 2965 956 3054 1417 3079 1534 3094 1591 3110 1634 3125 1665 3142 1686 3163 1697 3193 1705 4049 1850M2732 112 2500 204 2435 235 2386 265 2343 299 2306 339 2274 387 2246 444 2220 509 2197 585 2174 680 2152 786 2130 912 2108 1058 2033 1646 2013 1749 2003 1780 1991 1803 1977 1816 1957 1826 1391 2042M1890 153 2240 217 2338 240 2412 263 2477 293 2533 328 2581 372 2624 425 2662 487 2698 560 2733 652 2766 755 2799 878 2832 1022 2920 1483 2946 1601 2961 1657 2976 1701 2991 1731 3009 1752 3029 1764 3060 1771 3915 1917M2884 195 2653 287 2587 319 2537 349 2494 383 2457 422 2427 466 2398 522 2373 587 2349 663 2326 757 2304 863 2282 989 2261 1135 2185 1723 2165 1826 2155 1857 2143 1880 2130 1893 2110 1903 1543 2119M1789 249 2139 313 2237 336 2313 360 2379 388 2435 423 2480 463 2523 516 2561 577 2597 650 2632 742 2665 845 2698 968 2731 1112 2820 1573 2845 1691 2860 1747 2875 1791 2890 1821 2908 1842 2928 1854 2959 1861 3814 2007M3037 423 2804 516 2738 547 2688 577 2643 613 2604 654 2571 702 2540 760 2515 823 2493 892 2472 979 2452 1077 2431 1194 2410 1342 2338 1903 2317 2006 2307 2037 2296 2060 2282 2073 2262 2083 1696 2299M1688 489 1909 528 2040 554 2139 577 2215 601 2283 631 2341 667 2392 711 2438 765 2476 825 2509 891 2541 976 2572 1071 2602 1185 2635 1330 2719 1766 2744 1883 2759 1940 2774 1983 2790 2013 2807 2034 2827 2046 2858 2054 3713 2199M3238 1244 3032 1326 2971 1353 2923 1378 2881 1405 2844 1435 2812 1467 2784 1505 2749 1564 2713 1641 2681 1725 2613 1921 2576 2042 2522 2278 2507 2319 2492 2342 2480 2351 2460 2360 1897 2574M1555 1328 1866 1383 1957 1403 2031 1422 2094 1444 2150 1469 2198 1498 2241 1532 2294 1587 2347 1660 2395 1739 2499 1927 2530 1985 2555 2043 2616 2220 2636 2272 2659 2312 2681 2332 2699 2340 2730 2346 3580 2491M3390 1624 3206 1697 3105 1742 3065 1764 3032 1786 3002 1810 2975 1836 2934 1888 2899 1948 2859 2038 2795 2210 2772 2267 2743 2318 2728 2337 2713 2350 2691 2363 2660 2376 2049 2609M1454 1720 1733 1770 1884 1803 1945 1820 1996 1838 2041 1858 2082 1881 2112 1902 2143 1927 2196 1983 2226 2023 2256 2068 2353 2232 2388 2286 2411 2314 2431 2334 2454 2350 2477 2362 2510 2372 2558 2381 3479 2538M3543 1650 3358 1723 3258 1768 3218 1790 3184 1812 3154 1836 3127 1863 3087 1914 3052 1974 3011 2064 2948 2236 2924 2293 2896 2344 2881 2363 2866 2376 2845 2388 2815 2401 2202 2635M1353 1759 1632 1809 1783 1841 1844 1859 1895 1876 1940 1897 1981 1919 2011 1940 2042 1966 2095 2022 2125 2061 2156 2107 2252 2271 2287 2324 2310 2352 2330 2372 2353 2389 2376 2400 2406 2410 2452 2419 3378 2576M3744 1685 3560 1757 3459 1802 3419 1825 3386 1847 3355 1871 3329 1897 3288 1948 3253 2008 3213 2098 3149 2270 3126 2327 3097 2378 3082 2397 3067 2410 3047 2422 3017 2435 2403 2669M1220 1810 1498 1859 1650 1892 1711 1909 1761 1927 1807 1947 1848 1970 1878 1991 1908 2016 1961 2072 1992 2112 2022 2158 2118 2321 2154 2375 2177 2403 2197 2423 2220 2440 2242 2451 2273 2461 2318 2470 3245 2627M3897 1711 3712 1783 3612 1828 3571 1851 3538 1873 3508 1897 3481 1923 3441 1974 3406 2034 3365 2124 3302 2296 3278 2353 3250 2404 3235 2423 3219 2436 3199 2448 3169 2461 2556 2695M1119 1848 1397 1898 1549 1931 1610 1948 1661 1966 1706 1986 1747 2009 1777 2030 1807 2055 1860 2111 1891 2151 1921 2196 2017 2360 2053 2414 2076 2442 2096 2462 2119 2478 2141 2490 2172 2499 2217 2508 3144 2666M4049 1736 3865 1809 3764 1854 3724 1876 3690 1898 3660 1922 3633 1949 3593 2000 3558 2060 3518 2150 3454 2322 3431 2379 3402 2430 3387 2449 3372 2462 3352 2474 3322 2487 2708 2721M1018 1887 1296 1936 1448 1969 1509 1986 1560 2004 1605 2024 1646 2047 1676 2068 1706 2093 1760 2149 1790 2189 1820 2234 1917 2398 1952 2452 1975 2480 1995 2500 2018 2517 2041 2528 2071 2538 2116 2547 3043 2704M4251 1771 4066 1843 3966 1888 3925 1911 3892 1933 3862 1957 3835 1983 3795 2034 3759 2094 3719 2184 3655 2356 3632 2413 3603 2464 3588 2483 3573 2496 3553 2508 3523 2521 2910 2755M884 1938 1163 1987 1315 2020 1376 2037 1426 2055 1472 2075 1512 2098 1543 2119 1573 2144 1626 2200 1657 2240 1687 2285 1783 2449 1819 2503 1841 2531 1862 2551 1884 2567 1907 2579 1937 2588 1983 2598 2910 2755"/></g>
<g><path class="a" d="M88.1 241.1L88.1 51.7"/>
<path class="a" d="M88.1 241.1L290.6 275.5"/>
<path class="a" d="M290.6 275.5L424.7 224.4"/>
<path class="a" d="M88.1 241.1L83.2 240.3"/>
<path class="a" d="M88.1 193.8L83.2 192.9"/>
<path class="a" d="M88.1 146.4L83.2 145.6"/>
<path class="a" d="M88.1 99.0L83.2 98.2"/>
<path class="a" d="M88.1 51.7L83.2 50.9"/>
<path class="a" d="M88.1 241.1L83.4 242.9"/>
<path class="a" d="M138.7 249.7L134.1 251.5"/>
<path class="a" d="M189.3 258.3L184.7 260.1"/>
<path class="a" d="M240.0 266.9L235.3 268.7"/>
<path class="a" d="M290.6 275.5L285.9 277.3"/>
<path class="a" d="M424.7 224.4L429.6 225.2"/>
<path class="a" d="M391.2 237.2L396.1 238.0"/>
<path class="a" d="M357.7 249.9L362.6 250.8"/>
<path class="a" d="M324.1 262.7L329.1 263.6"/>
<path class="a" d="M290.6 275.5L295.5 276.3"/></g>
</svg>
<svg width="473" height="320" viewBox="0 0 473 320" style="position:absolute;left:0;top:0;transform:translateZ(0)" font-family="Liberation Serif"><text transform="translate(79.4 59.7) scale(1 1.06)" font-size="26" text-anchor="end">1</text><text transform="translate(79.4 107.8) scale(1 1.06)" font-size="26" text-anchor="end">0.75</text><text transform="translate(79.4 154.7) scale(1 1.06)" font-size="26" text-anchor="end">0.5</text><text transform="translate(79.4 202.1) scale(1 1.06)" font-size="26" text-anchor="end">0.25</text><text transform="translate(79.4 244.1) scale(1 1.06)" font-size="26" text-anchor="end">0</text><text transform="translate(54.4 269.1) scale(1 1.06)" font-size="26">10</text><text transform="translate(78.6 255.6) scale(1 1.06)" font-size="15">-2</text><text transform="translate(105.0 277.5) scale(1 1.06)" font-size="26">10</text><text transform="translate(129.7 263.7) scale(1 1.06)" font-size="15">-1</text><text transform="translate(167.8 285.5) scale(1 1.06)" font-size="26">1</text><text transform="translate(205.4 294.2) scale(1 1.06)" font-size="26">10</text><text transform="translate(254.0 302.6) scale(1 1.06)" font-size="26">10</text><text transform="translate(278.9 290.0) scale(1 1.06)" font-size="15">2</text><text transform="translate(296.0 300.7) scale(1 1.06)" font-size="26">10</text><text transform="translate(320.7 287.6) scale(1 1.06)" font-size="15">2</text><text transform="translate(333.5 287.0) scale(1 1.06)" font-size="26">10</text><text transform="translate(369.4 274.3) scale(1 1.06)" font-size="26">1</text><text transform="translate(395.7 264.7) scale(1 1.06)" font-size="26">10</text><text transform="translate(419.7 251.4) scale(1 1.06)" font-size="15">-1</text><text transform="translate(435.5 246.7) scale(1 1.06)" font-size="26">10</text><text transform="translate(459.7 233.6) scale(1 1.06)" font-size="15">-2</text><text x="130.3" y="315.9" font-size="26" font-style="italic" textLength="20" lengthAdjust="spacingAndGlyphs">N</text><text x="151.3" y="315.9" font-size="27" font-weight="normal" stroke="#000" stroke-width="0.35" textLength="17.5" lengthAdjust="spacingAndGlyphs">&#963;</text><text x="169" y="319" font-size="15">+</text><text x="377.2" y="307.4" font-size="26" font-style="italic" textLength="20" lengthAdjust="spacingAndGlyphs">N</text><text x="398.6" y="307.4" font-size="27" font-weight="normal" stroke="#000" stroke-width="0.35" textLength="17.8" lengthAdjust="spacingAndGlyphs">&#963;</text><text x="418" y="308.8" font-size="12" font-weight="bold">&#8211;</text><text transform="translate(25.0 168.8) rotate(-90)" font-size="28" font-style="italic">F</text><text transform="translate(25.0 151.8) rotate(-90)" font-size="28" font-style="italic">/</text><text transform="translate(25.3 141.0) rotate(-90)" font-size="28" font-style="italic">N</text><text transform="translate(12.5 120.9) rotate(-90)" font-size="17">2</text></svg>
</body></html>
